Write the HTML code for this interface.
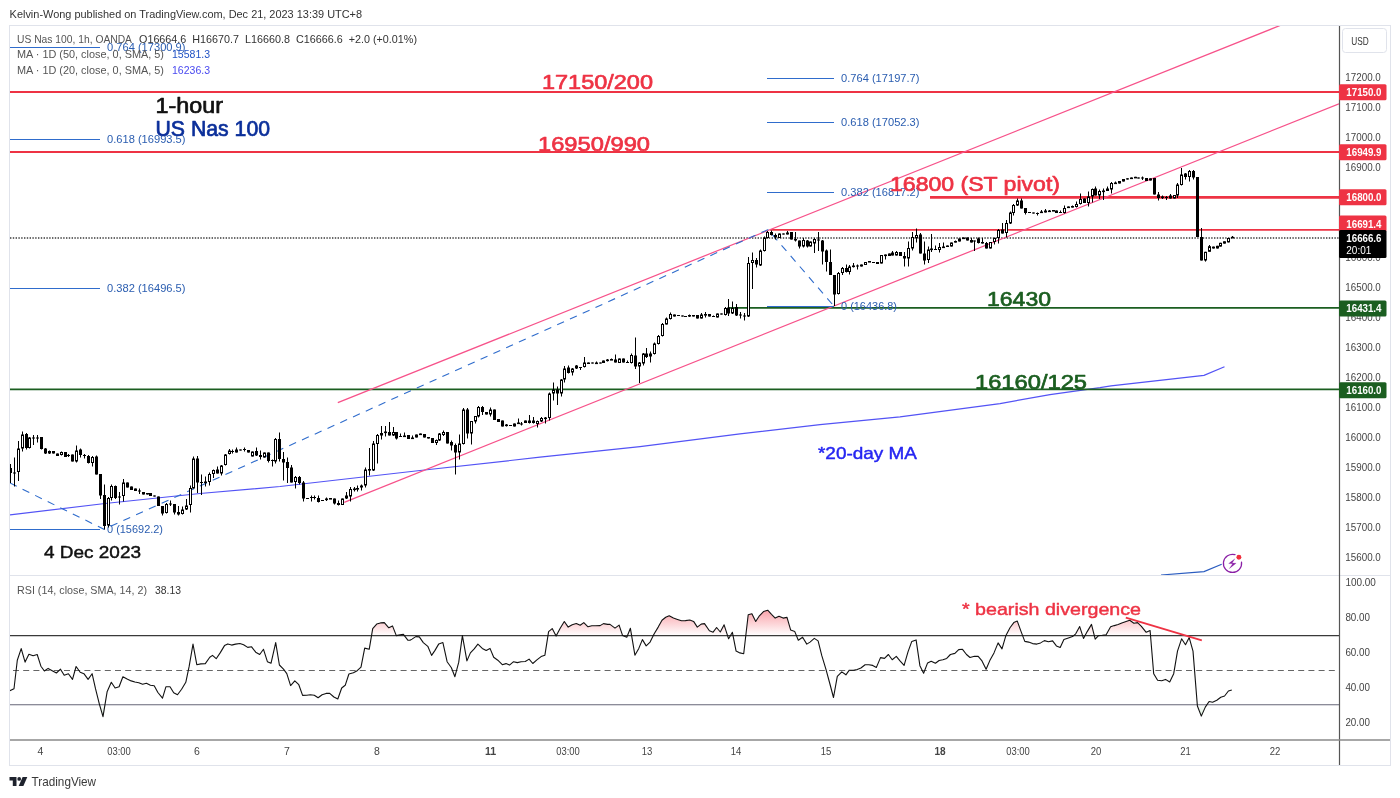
<!DOCTYPE html>
<html lang="en"><head><meta charset="utf-8"><title>US Nas 100 1-hour chart</title>
<style>
html,body{margin:0;padding:0;background:#fff;}
body{width:1400px;height:798px;overflow:hidden;position:relative;font-family:"Liberation Sans",sans-serif;}
svg{position:absolute;left:0;top:0;display:block;}
text{font-family:"Liberation Sans",sans-serif;}
.ax{font-size:10.5px;fill:#444;}
.lg{font-size:10.5px;fill:#555;}
.fib{font-size:11px;fill:#2a5db0;}
.ann{font-weight:normal;stroke-width:0.7px;stroke-linejoin:round;}
.s17{stroke-width:0.45px;}
</style></head><body>
<svg width="1400" height="798" viewBox="0 0 1400 798">

<text x="9.6" y="18" textLength="352.5" lengthAdjust="spacingAndGlyphs" font-size="11" style="fill:#333">Kelvin-Wong published on TradingView.com, Dec 21, 2023 13:39 UTC+8</text>
<rect x="9.5" y="25.5" width="1381" height="740" fill="#fff" stroke="#e0e3eb" stroke-width="1"/>
<line x1="10" y1="575.5" x2="1390" y2="575.5" stroke="#e0e3eb" stroke-width="1"/>
<defs><clipPath id="cm"><rect x="10" y="26" width="1329" height="549"/></clipPath><clipPath id="cr"><rect x="10" y="576" width="1329" height="164"/></clipPath></defs>
<g clip-path="url(#cm)">
<polyline fill="none" stroke="#5353f5" stroke-width="1.2" points="10,514.9 105,503.5 200,493.5 280,486.5 420,470.5 540,457.2 640,446.6 740,433.8 820,424.7 900,416.9 1000,403.6 1050,394.6 1100,387.6 1111,385.8 1204,375.3 1224.5,366.8"/>
<polyline fill="none" stroke="#2a5cc0" stroke-width="1.2" points="1161,575 1204,571.6 1221.7,564.2"/>
<line x1="10" y1="92.0" x2="1339" y2="92.0" stroke="#ee3344" stroke-width="2"/>
<line x1="10" y1="152.0" x2="1339" y2="152.0" stroke="#ee3344" stroke-width="2"/>
<line x1="930" y1="197.3" x2="1339" y2="197.3" stroke="#ee3344" stroke-width="2.8"/>
<line x1="770" y1="229.9" x2="1339" y2="229.9" stroke="#ee3344" stroke-width="1.9"/>
<line x1="728" y1="307.8" x2="1339" y2="307.8" stroke="#1b5e20" stroke-width="1.8"/>
<line x1="10" y1="389.4" x2="1339" y2="389.4" stroke="#1b5e20" stroke-width="1.8"/>
<line x1="10" y1="238" x2="1339" y2="238" stroke="#3a3a3a" stroke-width="1.3" stroke-dasharray="1.4 1.4"/>
<line x1="337.8" y1="402.7" x2="1281" y2="25.1" stroke="#f7528a" stroke-width="1.25"/>
<line x1="344.2" y1="502.3" x2="1339" y2="103.75" stroke="#f7528a" stroke-width="1.25"/>
<polyline fill="none" stroke="#2f6ccc" stroke-width="1.1" stroke-dasharray="7.5 6.5" points="10,483 104,529.3 768,229.6 834,306.2"/>
<line x1="10" y1="47.5" x2="100" y2="47.5" stroke="#2f6ccc" stroke-width="1.2"/>
<text x="107" y="50.5" class="fib" textLength="78.5" lengthAdjust="spacingAndGlyphs">0.764 (17300.9)</text>
<line x1="10" y1="139.5" x2="100" y2="139.5" stroke="#2f6ccc" stroke-width="1.2"/>
<text x="107" y="142.8" class="fib" textLength="78.5" lengthAdjust="spacingAndGlyphs">0.618 (16993.5)</text>
<line x1="10" y1="288.5" x2="100" y2="288.5" stroke="#2f6ccc" stroke-width="1.2"/>
<text x="107" y="291.8" class="fib" textLength="78.5" lengthAdjust="spacingAndGlyphs">0.382 (16496.5)</text>
<line x1="10" y1="529.5" x2="100" y2="529.5" stroke="#2f6ccc" stroke-width="1.2"/>
<text x="107" y="533.0999999999999" class="fib" textLength="56" lengthAdjust="spacingAndGlyphs">0 (15692.2)</text>
<line x1="767" y1="78.5" x2="834" y2="78.5" stroke="#2f6ccc" stroke-width="1.2"/>
<text x="841" y="82.0" class="fib" textLength="78.5" lengthAdjust="spacingAndGlyphs">0.764 (17197.7)</text>
<line x1="767" y1="122.5" x2="834" y2="122.5" stroke="#2f6ccc" stroke-width="1.2"/>
<text x="841" y="125.5" class="fib" textLength="78.5" lengthAdjust="spacingAndGlyphs">0.618 (17052.3)</text>
<line x1="767" y1="192.5" x2="834" y2="192.5" stroke="#2f6ccc" stroke-width="1.2"/>
<text x="841" y="195.9" class="fib" textLength="78.5" lengthAdjust="spacingAndGlyphs">0.382 (16817.2)</text>
<line x1="767" y1="306.5" x2="834" y2="306.5" stroke="#2f6ccc" stroke-width="1.2"/>
<text x="841" y="310.0" class="fib" textLength="56" lengthAdjust="spacingAndGlyphs">0 (16436.8)</text>
<line x1="10.5" y1="464.0" x2="10.5" y2="483.0" stroke="#000" stroke-width="1"/>
<rect x="9.0" y="468.0" width="3" height="5.0" fill="#000"/>
<line x1="14.5" y1="457.5" x2="14.5" y2="486.5" stroke="#000" stroke-width="1"/>
<rect x="13.0" y="472.5" width="3" height="1.0" fill="#000"/>
<line x1="18.5" y1="441.0" x2="18.5" y2="481.0" stroke="#000" stroke-width="1"/>
<rect x="17.5" y="449.0" width="2" height="22.5" fill="#fff" stroke="#000" stroke-width="1"/>
<line x1="22.5" y1="431.5" x2="22.5" y2="451.5" stroke="#000" stroke-width="1"/>
<rect x="21.5" y="435.0" width="2" height="13.0" fill="#fff" stroke="#000" stroke-width="1"/>
<line x1="26.5" y1="433.0" x2="26.5" y2="449.5" stroke="#000" stroke-width="1"/>
<rect x="25.0" y="434.0" width="3" height="14.0" fill="#000"/>
<line x1="29.5" y1="437.0" x2="29.5" y2="448.5" stroke="#000" stroke-width="1"/>
<rect x="28.5" y="438.0" width="2" height="9.5" fill="#fff" stroke="#000" stroke-width="1"/>
<line x1="33.5" y1="435.0" x2="33.5" y2="445.0" stroke="#000" stroke-width="1"/>
<rect x="32.0" y="437.5" width="3" height="1.0" fill="#000"/>
<line x1="37.5" y1="435.0" x2="37.5" y2="442.5" stroke="#000" stroke-width="1"/>
<rect x="36.0" y="437.5" width="3" height="1.0" fill="#000"/>
<line x1="41.5" y1="437.0" x2="41.5" y2="449.5" stroke="#000" stroke-width="1"/>
<rect x="40.0" y="437.0" width="3" height="12.0" fill="#000"/>
<line x1="45.5" y1="448.0" x2="45.5" y2="454.0" stroke="#000" stroke-width="1"/>
<rect x="44.0" y="448.5" width="3" height="5.0" fill="#000"/>
<line x1="49.5" y1="450.5" x2="49.5" y2="454.0" stroke="#000" stroke-width="1"/>
<rect x="48.5" y="451.5" width="2" height="1.5" fill="#fff" stroke="#000" stroke-width="1"/>
<line x1="53.5" y1="451.0" x2="53.5" y2="453.5" stroke="#000" stroke-width="1"/>
<rect x="52.0" y="451.0" width="3" height="2.5" fill="#000"/>
<line x1="57.5" y1="453.5" x2="57.5" y2="456.0" stroke="#000" stroke-width="1"/>
<rect x="56.0" y="453.5" width="3" height="2.5" fill="#000"/>
<line x1="61.5" y1="451.5" x2="61.5" y2="455.5" stroke="#000" stroke-width="1"/>
<rect x="60.5" y="452.5" width="2" height="2.0" fill="#fff" stroke="#000" stroke-width="1"/>
<line x1="65.5" y1="452.0" x2="65.5" y2="457.0" stroke="#000" stroke-width="1"/>
<rect x="64.0" y="452.0" width="3" height="5.0" fill="#000"/>
<line x1="68.5" y1="454.0" x2="68.5" y2="457.0" stroke="#000" stroke-width="1"/>
<rect x="67.0" y="455.0" width="3" height="1.0" fill="#000"/>
<line x1="72.5" y1="454.5" x2="72.5" y2="461.5" stroke="#000" stroke-width="1"/>
<rect x="71.0" y="454.5" width="3" height="7.0" fill="#000"/>
<line x1="76.5" y1="445.5" x2="76.5" y2="462.5" stroke="#000" stroke-width="1"/>
<rect x="75.5" y="451.0" width="2" height="10.0" fill="#fff" stroke="#000" stroke-width="1"/>
<line x1="80.5" y1="448.5" x2="80.5" y2="457.5" stroke="#000" stroke-width="1"/>
<rect x="79.0" y="449.5" width="3" height="5.5" fill="#000"/>
<line x1="84.5" y1="454.0" x2="84.5" y2="458.5" stroke="#000" stroke-width="1"/>
<rect x="83.0" y="455.0" width="3" height="1.0" fill="#000"/>
<line x1="88.5" y1="455.0" x2="88.5" y2="463.5" stroke="#000" stroke-width="1"/>
<rect x="87.0" y="456.0" width="3" height="7.0" fill="#000"/>
<line x1="92.5" y1="456.0" x2="92.5" y2="466.5" stroke="#000" stroke-width="1"/>
<rect x="91.5" y="457.5" width="2" height="5.0" fill="#fff" stroke="#000" stroke-width="1"/>
<line x1="96.5" y1="455.5" x2="96.5" y2="474.5" stroke="#000" stroke-width="1"/>
<rect x="95.0" y="456.5" width="3" height="18.0" fill="#000"/>
<line x1="100.5" y1="474.0" x2="100.5" y2="499.0" stroke="#000" stroke-width="1"/>
<rect x="99.0" y="474.0" width="3" height="21.5" fill="#000"/>
<line x1="104.5" y1="484.5" x2="104.5" y2="529.5" stroke="#000" stroke-width="1"/>
<rect x="103.0" y="495.0" width="3" height="31.0" fill="#000"/>
<line x1="108.5" y1="497.0" x2="108.5" y2="527.5" stroke="#000" stroke-width="1"/>
<rect x="107.5" y="498.5" width="2" height="26.5" fill="#fff" stroke="#000" stroke-width="1"/>
<line x1="111.5" y1="484.5" x2="111.5" y2="500.5" stroke="#000" stroke-width="1"/>
<rect x="110.5" y="486.5" width="2" height="11.0" fill="#fff" stroke="#000" stroke-width="1"/>
<line x1="115.5" y1="485.5" x2="115.5" y2="499.0" stroke="#000" stroke-width="1"/>
<rect x="114.0" y="486.0" width="3" height="12.0" fill="#000"/>
<line x1="119.5" y1="492.0" x2="119.5" y2="504.5" stroke="#000" stroke-width="1"/>
<rect x="118.0" y="496.5" width="3" height="1.0" fill="#000"/>
<line x1="123.5" y1="479.0" x2="123.5" y2="501.5" stroke="#000" stroke-width="1"/>
<rect x="122.5" y="483.0" width="2" height="12.5" fill="#fff" stroke="#000" stroke-width="1"/>
<line x1="127.5" y1="482.5" x2="127.5" y2="487.5" stroke="#000" stroke-width="1"/>
<rect x="126.0" y="482.5" width="3" height="5.0" fill="#000"/>
<line x1="131.5" y1="486.5" x2="131.5" y2="490.0" stroke="#000" stroke-width="1"/>
<rect x="130.0" y="486.5" width="3" height="3.5" fill="#000"/>
<line x1="135.5" y1="488.5" x2="135.5" y2="491.0" stroke="#000" stroke-width="1"/>
<rect x="134.0" y="488.5" width="3" height="2.5" fill="#000"/>
<line x1="139.5" y1="488.5" x2="139.5" y2="494.0" stroke="#000" stroke-width="1"/>
<rect x="138.0" y="490.5" width="3" height="1.0" fill="#000"/>
<line x1="143.5" y1="492.0" x2="143.5" y2="494.5" stroke="#000" stroke-width="1"/>
<rect x="142.0" y="492.0" width="3" height="2.5" fill="#000"/>
<line x1="147.5" y1="493.0" x2="147.5" y2="494.5" stroke="#000" stroke-width="1"/>
<rect x="146.0" y="493.0" width="3" height="1.5" fill="#000"/>
<line x1="150.5" y1="493.0" x2="150.5" y2="496.0" stroke="#000" stroke-width="1"/>
<rect x="149.0" y="493.0" width="3" height="3.0" fill="#000"/>
<line x1="154.5" y1="495.5" x2="154.5" y2="496.5" stroke="#000" stroke-width="1"/>
<rect x="153.0" y="495.5" width="3" height="1.0" fill="#000"/>
<line x1="158.5" y1="496.5" x2="158.5" y2="506.0" stroke="#000" stroke-width="1"/>
<rect x="157.0" y="496.5" width="3" height="9.5" fill="#000"/>
<line x1="162.5" y1="506.0" x2="162.5" y2="515.5" stroke="#000" stroke-width="1"/>
<rect x="161.0" y="506.0" width="3" height="7.5" fill="#000"/>
<line x1="166.5" y1="503.0" x2="166.5" y2="513.5" stroke="#000" stroke-width="1"/>
<rect x="165.5" y="504.5" width="2" height="8.0" fill="#fff" stroke="#000" stroke-width="1"/>
<line x1="170.5" y1="500.5" x2="170.5" y2="506.0" stroke="#000" stroke-width="1"/>
<rect x="169.0" y="503.5" width="3" height="1.0" fill="#000"/>
<line x1="174.5" y1="504.0" x2="174.5" y2="514.5" stroke="#000" stroke-width="1"/>
<rect x="173.0" y="504.0" width="3" height="8.5" fill="#000"/>
<line x1="178.5" y1="506.0" x2="178.5" y2="515.5" stroke="#000" stroke-width="1"/>
<rect x="177.0" y="512.0" width="3" height="2.5" fill="#000"/>
<line x1="182.5" y1="506.5" x2="182.5" y2="514.5" stroke="#000" stroke-width="1"/>
<rect x="181.5" y="510.0" width="2" height="3.5" fill="#fff" stroke="#000" stroke-width="1"/>
<line x1="186.5" y1="499.0" x2="186.5" y2="510.0" stroke="#000" stroke-width="1"/>
<rect x="185.5" y="506.0" width="2" height="3.0" fill="#fff" stroke="#000" stroke-width="1"/>
<line x1="190.5" y1="485.5" x2="190.5" y2="512.5" stroke="#000" stroke-width="1"/>
<rect x="189.5" y="488.5" width="2" height="16.0" fill="#fff" stroke="#000" stroke-width="1"/>
<line x1="193.5" y1="456.5" x2="193.5" y2="488.5" stroke="#000" stroke-width="1"/>
<rect x="192.5" y="459.0" width="2" height="29.0" fill="#fff" stroke="#000" stroke-width="1"/>
<line x1="197.5" y1="456.0" x2="197.5" y2="493.0" stroke="#000" stroke-width="1"/>
<rect x="196.0" y="458.5" width="3" height="24.0" fill="#000"/>
<line x1="201.5" y1="474.5" x2="201.5" y2="495.0" stroke="#000" stroke-width="1"/>
<rect x="200.0" y="482.0" width="3" height="1.0" fill="#000"/>
<line x1="205.5" y1="476.5" x2="205.5" y2="486.5" stroke="#000" stroke-width="1"/>
<rect x="204.5" y="482.0" width="2" height="0.6" fill="#fff" stroke="#000" stroke-width="1"/>
<line x1="209.5" y1="472.5" x2="209.5" y2="485.5" stroke="#000" stroke-width="1"/>
<rect x="208.5" y="474.5" width="2" height="7.0" fill="#fff" stroke="#000" stroke-width="1"/>
<line x1="213.5" y1="469.5" x2="213.5" y2="478.0" stroke="#000" stroke-width="1"/>
<rect x="212.5" y="470.5" width="2" height="3.0" fill="#fff" stroke="#000" stroke-width="1"/>
<line x1="217.5" y1="466.5" x2="217.5" y2="473.5" stroke="#000" stroke-width="1"/>
<rect x="216.0" y="469.5" width="3" height="4.0" fill="#000"/>
<line x1="221.5" y1="465.0" x2="221.5" y2="475.5" stroke="#000" stroke-width="1"/>
<rect x="220.5" y="466.0" width="2" height="7.0" fill="#fff" stroke="#000" stroke-width="1"/>
<line x1="225.5" y1="454.0" x2="225.5" y2="465.5" stroke="#000" stroke-width="1"/>
<rect x="224.5" y="455.0" width="2" height="9.5" fill="#fff" stroke="#000" stroke-width="1"/>
<line x1="229.5" y1="449.0" x2="229.5" y2="454.5" stroke="#000" stroke-width="1"/>
<rect x="228.5" y="451.0" width="2" height="2.5" fill="#fff" stroke="#000" stroke-width="1"/>
<line x1="232.5" y1="449.5" x2="232.5" y2="453.5" stroke="#000" stroke-width="1"/>
<rect x="231.0" y="451.0" width="3" height="1.0" fill="#000"/>
<line x1="236.5" y1="447.5" x2="236.5" y2="452.5" stroke="#000" stroke-width="1"/>
<rect x="235.5" y="450.0" width="2" height="2.0" fill="#fff" stroke="#000" stroke-width="1"/>
<line x1="240.5" y1="449.5" x2="240.5" y2="450.5" stroke="#000" stroke-width="1"/>
<rect x="239.0" y="449.5" width="3" height="1.0" fill="#000"/>
<line x1="244.5" y1="447.5" x2="244.5" y2="451.5" stroke="#000" stroke-width="1"/>
<rect x="243.0" y="449.0" width="3" height="1.0" fill="#000"/>
<line x1="248.5" y1="450.0" x2="248.5" y2="452.5" stroke="#000" stroke-width="1"/>
<rect x="247.0" y="450.0" width="3" height="2.5" fill="#000"/>
<line x1="252.5" y1="451.5" x2="252.5" y2="456.5" stroke="#000" stroke-width="1"/>
<rect x="251.5" y="452.0" width="2" height="4.0" fill="#fff" stroke="#000" stroke-width="1"/>
<line x1="256.5" y1="447.5" x2="256.5" y2="456.0" stroke="#000" stroke-width="1"/>
<rect x="255.0" y="451.0" width="3" height="4.5" fill="#000"/>
<line x1="260.5" y1="450.5" x2="260.5" y2="459.5" stroke="#000" stroke-width="1"/>
<rect x="259.0" y="455.0" width="3" height="2.0" fill="#000"/>
<line x1="264.5" y1="452.5" x2="264.5" y2="457.5" stroke="#000" stroke-width="1"/>
<rect x="263.5" y="453.0" width="2" height="4.0" fill="#fff" stroke="#000" stroke-width="1"/>
<line x1="268.5" y1="452.5" x2="268.5" y2="462.5" stroke="#000" stroke-width="1"/>
<rect x="267.0" y="452.5" width="3" height="8.5" fill="#000"/>
<line x1="272.5" y1="459.5" x2="272.5" y2="466.5" stroke="#000" stroke-width="1"/>
<rect x="271.0" y="460.0" width="3" height="1.0" fill="#000"/>
<line x1="275.5" y1="438.0" x2="275.5" y2="463.5" stroke="#000" stroke-width="1"/>
<rect x="274.5" y="439.5" width="2" height="21.5" fill="#fff" stroke="#000" stroke-width="1"/>
<line x1="279.5" y1="432.5" x2="279.5" y2="461.5" stroke="#000" stroke-width="1"/>
<rect x="278.0" y="439.0" width="3" height="20.0" fill="#000"/>
<line x1="283.5" y1="452.0" x2="283.5" y2="480.5" stroke="#000" stroke-width="1"/>
<rect x="282.0" y="459.0" width="3" height="3.5" fill="#000"/>
<line x1="287.5" y1="457.5" x2="287.5" y2="483.0" stroke="#000" stroke-width="1"/>
<rect x="286.0" y="462.0" width="3" height="6.0" fill="#000"/>
<line x1="291.5" y1="465.0" x2="291.5" y2="482.5" stroke="#000" stroke-width="1"/>
<rect x="290.0" y="467.5" width="3" height="15.0" fill="#000"/>
<line x1="295.5" y1="476.0" x2="295.5" y2="488.5" stroke="#000" stroke-width="1"/>
<rect x="294.5" y="477.5" width="2" height="4.0" fill="#fff" stroke="#000" stroke-width="1"/>
<line x1="299.5" y1="476.0" x2="299.5" y2="484.5" stroke="#000" stroke-width="1"/>
<rect x="298.0" y="477.0" width="3" height="6.0" fill="#000"/>
<line x1="303.5" y1="481.0" x2="303.5" y2="501.5" stroke="#000" stroke-width="1"/>
<rect x="302.0" y="482.5" width="3" height="16.0" fill="#000"/>
<line x1="307.5" y1="498.0" x2="307.5" y2="499.0" stroke="#000" stroke-width="1"/>
<rect x="306.0" y="498.0" width="3" height="1.0" fill="#000"/>
<line x1="311.5" y1="495.5" x2="311.5" y2="501.5" stroke="#000" stroke-width="1"/>
<rect x="310.0" y="497.0" width="3" height="1.0" fill="#000"/>
<line x1="314.5" y1="495.5" x2="314.5" y2="499.5" stroke="#000" stroke-width="1"/>
<rect x="313.0" y="497.0" width="3" height="1.0" fill="#000"/>
<line x1="318.5" y1="495.5" x2="318.5" y2="502.5" stroke="#000" stroke-width="1"/>
<rect x="317.0" y="498.0" width="3" height="4.0" fill="#000"/>
<line x1="322.5" y1="500.0" x2="322.5" y2="501.0" stroke="#000" stroke-width="1"/>
<rect x="321.0" y="500.0" width="3" height="1.0" fill="#000"/>
<line x1="326.5" y1="497.5" x2="326.5" y2="501.0" stroke="#000" stroke-width="1"/>
<rect x="325.5" y="499.0" width="2" height="0.6" fill="#fff" stroke="#000" stroke-width="1"/>
<line x1="330.5" y1="498.0" x2="330.5" y2="499.0" stroke="#000" stroke-width="1"/>
<rect x="329.5" y="498.5" width="2" height="0.6" fill="#fff" stroke="#000" stroke-width="1"/>
<line x1="334.5" y1="498.5" x2="334.5" y2="504.5" stroke="#000" stroke-width="1"/>
<rect x="333.0" y="498.5" width="3" height="5.0" fill="#000"/>
<line x1="338.5" y1="500.5" x2="338.5" y2="505.5" stroke="#000" stroke-width="1"/>
<rect x="337.0" y="503.0" width="3" height="2.0" fill="#000"/>
<line x1="342.5" y1="498.5" x2="342.5" y2="505.0" stroke="#000" stroke-width="1"/>
<rect x="341.5" y="499.0" width="2" height="5.5" fill="#fff" stroke="#000" stroke-width="1"/>
<line x1="346.5" y1="492.0" x2="346.5" y2="499.0" stroke="#000" stroke-width="1"/>
<rect x="345.5" y="496.0" width="2" height="2.0" fill="#fff" stroke="#000" stroke-width="1"/>
<line x1="350.5" y1="487.0" x2="350.5" y2="501.5" stroke="#000" stroke-width="1"/>
<rect x="349.5" y="489.5" width="2" height="6.5" fill="#fff" stroke="#000" stroke-width="1"/>
<line x1="354.5" y1="487.0" x2="354.5" y2="491.5" stroke="#000" stroke-width="1"/>
<rect x="353.5" y="489.0" width="2" height="0.6" fill="#fff" stroke="#000" stroke-width="1"/>
<line x1="357.5" y1="485.5" x2="357.5" y2="491.5" stroke="#000" stroke-width="1"/>
<rect x="356.5" y="488.5" width="2" height="0.6" fill="#fff" stroke="#000" stroke-width="1"/>
<line x1="361.5" y1="484.5" x2="361.5" y2="490.5" stroke="#000" stroke-width="1"/>
<rect x="360.5" y="486.0" width="2" height="1.0" fill="#fff" stroke="#000" stroke-width="1"/>
<line x1="365.5" y1="467.5" x2="365.5" y2="487.5" stroke="#000" stroke-width="1"/>
<rect x="364.5" y="470.0" width="2" height="15.0" fill="#fff" stroke="#000" stroke-width="1"/>
<line x1="369.5" y1="448.0" x2="369.5" y2="475.5" stroke="#000" stroke-width="1"/>
<rect x="368.5" y="469.5" width="2" height="0.6" fill="#fff" stroke="#000" stroke-width="1"/>
<line x1="373.5" y1="441.0" x2="373.5" y2="471.0" stroke="#000" stroke-width="1"/>
<rect x="372.5" y="444.0" width="2" height="26.0" fill="#fff" stroke="#000" stroke-width="1"/>
<line x1="377.5" y1="434.0" x2="377.5" y2="463.5" stroke="#000" stroke-width="1"/>
<rect x="376.5" y="435.5" width="2" height="8.0" fill="#fff" stroke="#000" stroke-width="1"/>
<line x1="381.5" y1="426.0" x2="381.5" y2="439.5" stroke="#000" stroke-width="1"/>
<rect x="380.5" y="433.5" width="2" height="1.5" fill="#fff" stroke="#000" stroke-width="1"/>
<line x1="385.5" y1="426.0" x2="385.5" y2="436.5" stroke="#000" stroke-width="1"/>
<rect x="384.5" y="432.0" width="2" height="0.6" fill="#fff" stroke="#000" stroke-width="1"/>
<line x1="389.5" y1="422.0" x2="389.5" y2="435.5" stroke="#000" stroke-width="1"/>
<rect x="388.0" y="432.0" width="3" height="3.5" fill="#000"/>
<line x1="393.5" y1="427.0" x2="393.5" y2="436.0" stroke="#000" stroke-width="1"/>
<rect x="392.5" y="432.5" width="2" height="2.5" fill="#fff" stroke="#000" stroke-width="1"/>
<line x1="396.5" y1="432.0" x2="396.5" y2="439.5" stroke="#000" stroke-width="1"/>
<rect x="395.0" y="432.0" width="3" height="6.5" fill="#000"/>
<line x1="400.5" y1="433.5" x2="400.5" y2="437.0" stroke="#000" stroke-width="1"/>
<rect x="399.0" y="436.0" width="3" height="1.0" fill="#000"/>
<line x1="404.5" y1="432.5" x2="404.5" y2="436.5" stroke="#000" stroke-width="1"/>
<rect x="403.5" y="436.0" width="2" height="0.6" fill="#fff" stroke="#000" stroke-width="1"/>
<line x1="408.5" y1="435.0" x2="408.5" y2="439.0" stroke="#000" stroke-width="1"/>
<rect x="407.0" y="435.0" width="3" height="4.0" fill="#000"/>
<line x1="412.5" y1="435.5" x2="412.5" y2="438.5" stroke="#000" stroke-width="1"/>
<rect x="411.5" y="438.0" width="2" height="0.6" fill="#fff" stroke="#000" stroke-width="1"/>
<line x1="416.5" y1="434.5" x2="416.5" y2="437.5" stroke="#000" stroke-width="1"/>
<rect x="415.5" y="435.0" width="2" height="2.0" fill="#fff" stroke="#000" stroke-width="1"/>
<line x1="420.5" y1="433.5" x2="420.5" y2="434.5" stroke="#000" stroke-width="1"/>
<rect x="419.5" y="434.0" width="2" height="0.6" fill="#fff" stroke="#000" stroke-width="1"/>
<line x1="424.5" y1="434.0" x2="424.5" y2="437.5" stroke="#000" stroke-width="1"/>
<rect x="423.0" y="434.0" width="3" height="3.5" fill="#000"/>
<line x1="428.5" y1="437.0" x2="428.5" y2="438.5" stroke="#000" stroke-width="1"/>
<rect x="427.0" y="437.0" width="3" height="1.5" fill="#000"/>
<line x1="432.5" y1="438.0" x2="432.5" y2="443.0" stroke="#000" stroke-width="1"/>
<rect x="431.0" y="438.0" width="3" height="5.0" fill="#000"/>
<line x1="436.5" y1="439.5" x2="436.5" y2="445.0" stroke="#000" stroke-width="1"/>
<rect x="435.5" y="440.5" width="2" height="2.0" fill="#fff" stroke="#000" stroke-width="1"/>
<line x1="439.5" y1="433.0" x2="439.5" y2="441.0" stroke="#000" stroke-width="1"/>
<rect x="438.5" y="434.0" width="2" height="6.0" fill="#fff" stroke="#000" stroke-width="1"/>
<line x1="443.5" y1="430.5" x2="443.5" y2="436.0" stroke="#000" stroke-width="1"/>
<rect x="442.5" y="432.5" width="2" height="2.0" fill="#fff" stroke="#000" stroke-width="1"/>
<line x1="447.5" y1="432.0" x2="447.5" y2="443.5" stroke="#000" stroke-width="1"/>
<rect x="446.0" y="432.0" width="3" height="11.5" fill="#000"/>
<line x1="451.5" y1="440.5" x2="451.5" y2="450.5" stroke="#000" stroke-width="1"/>
<rect x="450.0" y="442.0" width="3" height="3.5" fill="#000"/>
<line x1="455.5" y1="443.5" x2="455.5" y2="474.5" stroke="#000" stroke-width="1"/>
<rect x="454.0" y="445.0" width="3" height="7.5" fill="#000"/>
<line x1="459.5" y1="434.5" x2="459.5" y2="459.5" stroke="#000" stroke-width="1"/>
<rect x="458.5" y="444.0" width="2" height="8.0" fill="#fff" stroke="#000" stroke-width="1"/>
<line x1="463.5" y1="408.0" x2="463.5" y2="444.5" stroke="#000" stroke-width="1"/>
<rect x="462.5" y="410.0" width="2" height="33.5" fill="#fff" stroke="#000" stroke-width="1"/>
<line x1="467.5" y1="408.0" x2="467.5" y2="438.5" stroke="#000" stroke-width="1"/>
<rect x="466.0" y="409.5" width="3" height="24.0" fill="#000"/>
<line x1="471.5" y1="421.0" x2="471.5" y2="444.5" stroke="#000" stroke-width="1"/>
<rect x="470.5" y="421.5" width="2" height="11.5" fill="#fff" stroke="#000" stroke-width="1"/>
<line x1="475.5" y1="416.0" x2="475.5" y2="423.5" stroke="#000" stroke-width="1"/>
<rect x="474.5" y="416.5" width="2" height="4.5" fill="#fff" stroke="#000" stroke-width="1"/>
<line x1="478.5" y1="406.0" x2="478.5" y2="417.5" stroke="#000" stroke-width="1"/>
<rect x="477.5" y="407.5" width="2" height="8.5" fill="#fff" stroke="#000" stroke-width="1"/>
<line x1="482.5" y1="406.0" x2="482.5" y2="415.0" stroke="#000" stroke-width="1"/>
<rect x="481.0" y="407.0" width="3" height="5.0" fill="#000"/>
<line x1="486.5" y1="412.0" x2="486.5" y2="414.5" stroke="#000" stroke-width="1"/>
<rect x="485.0" y="412.0" width="3" height="2.5" fill="#000"/>
<line x1="490.5" y1="407.5" x2="490.5" y2="416.5" stroke="#000" stroke-width="1"/>
<rect x="489.5" y="410.0" width="2" height="4.0" fill="#fff" stroke="#000" stroke-width="1"/>
<line x1="494.5" y1="409.5" x2="494.5" y2="420.0" stroke="#000" stroke-width="1"/>
<rect x="493.0" y="409.5" width="3" height="10.5" fill="#000"/>
<line x1="498.5" y1="419.0" x2="498.5" y2="422.0" stroke="#000" stroke-width="1"/>
<rect x="497.0" y="419.0" width="3" height="3.0" fill="#000"/>
<line x1="502.5" y1="420.5" x2="502.5" y2="426.5" stroke="#000" stroke-width="1"/>
<rect x="501.0" y="420.5" width="3" height="6.0" fill="#000"/>
<line x1="506.5" y1="424.0" x2="506.5" y2="426.5" stroke="#000" stroke-width="1"/>
<rect x="505.5" y="425.0" width="2" height="0.6" fill="#fff" stroke="#000" stroke-width="1"/>
<line x1="510.5" y1="425.0" x2="510.5" y2="426.0" stroke="#000" stroke-width="1"/>
<rect x="509.0" y="425.0" width="3" height="1.0" fill="#000"/>
<line x1="514.5" y1="423.5" x2="514.5" y2="426.5" stroke="#000" stroke-width="1"/>
<rect x="513.5" y="424.0" width="2" height="2.0" fill="#fff" stroke="#000" stroke-width="1"/>
<line x1="518.5" y1="418.5" x2="518.5" y2="423.5" stroke="#000" stroke-width="1"/>
<rect x="517.5" y="423.0" width="2" height="0.6" fill="#fff" stroke="#000" stroke-width="1"/>
<line x1="521.5" y1="422.0" x2="521.5" y2="425.5" stroke="#000" stroke-width="1"/>
<rect x="520.0" y="423.5" width="3" height="1.0" fill="#000"/>
<line x1="525.5" y1="420.5" x2="525.5" y2="423.0" stroke="#000" stroke-width="1"/>
<rect x="524.5" y="421.0" width="2" height="1.5" fill="#fff" stroke="#000" stroke-width="1"/>
<line x1="529.5" y1="415.0" x2="529.5" y2="423.5" stroke="#000" stroke-width="1"/>
<rect x="528.5" y="421.0" width="2" height="1.5" fill="#fff" stroke="#000" stroke-width="1"/>
<line x1="533.5" y1="417.0" x2="533.5" y2="423.5" stroke="#000" stroke-width="1"/>
<rect x="532.0" y="420.5" width="3" height="2.5" fill="#000"/>
<line x1="537.5" y1="420.5" x2="537.5" y2="427.5" stroke="#000" stroke-width="1"/>
<rect x="536.5" y="421.5" width="2" height="2.0" fill="#fff" stroke="#000" stroke-width="1"/>
<line x1="541.5" y1="417.0" x2="541.5" y2="422.0" stroke="#000" stroke-width="1"/>
<rect x="540.5" y="418.5" width="2" height="2.5" fill="#fff" stroke="#000" stroke-width="1"/>
<line x1="545.5" y1="417.0" x2="545.5" y2="423.5" stroke="#000" stroke-width="1"/>
<rect x="544.5" y="418.0" width="2" height="0.6" fill="#fff" stroke="#000" stroke-width="1"/>
<line x1="549.5" y1="392.5" x2="549.5" y2="420.5" stroke="#000" stroke-width="1"/>
<rect x="548.5" y="394.0" width="2" height="23.5" fill="#fff" stroke="#000" stroke-width="1"/>
<line x1="553.5" y1="382.5" x2="553.5" y2="400.5" stroke="#000" stroke-width="1"/>
<rect x="552.5" y="390.0" width="2" height="3.0" fill="#fff" stroke="#000" stroke-width="1"/>
<line x1="557.5" y1="386.5" x2="557.5" y2="405.0" stroke="#000" stroke-width="1"/>
<rect x="556.0" y="389.5" width="3" height="4.0" fill="#000"/>
<line x1="561.5" y1="379.0" x2="561.5" y2="396.5" stroke="#000" stroke-width="1"/>
<rect x="560.5" y="380.0" width="2" height="13.0" fill="#fff" stroke="#000" stroke-width="1"/>
<line x1="564.5" y1="366.0" x2="564.5" y2="382.5" stroke="#000" stroke-width="1"/>
<rect x="563.5" y="369.0" width="2" height="10.0" fill="#fff" stroke="#000" stroke-width="1"/>
<line x1="568.5" y1="365.5" x2="568.5" y2="373.5" stroke="#000" stroke-width="1"/>
<rect x="567.0" y="367.5" width="3" height="5.5" fill="#000"/>
<line x1="572.5" y1="368.0" x2="572.5" y2="375.5" stroke="#000" stroke-width="1"/>
<rect x="571.5" y="369.0" width="2" height="3.0" fill="#fff" stroke="#000" stroke-width="1"/>
<line x1="576.5" y1="365.0" x2="576.5" y2="369.0" stroke="#000" stroke-width="1"/>
<rect x="575.5" y="366.0" width="2" height="2.0" fill="#fff" stroke="#000" stroke-width="1"/>
<line x1="580.5" y1="367.0" x2="580.5" y2="370.0" stroke="#000" stroke-width="1"/>
<rect x="579.0" y="367.0" width="3" height="1.0" fill="#000"/>
<line x1="584.5" y1="357.0" x2="584.5" y2="367.5" stroke="#000" stroke-width="1"/>
<rect x="583.5" y="363.0" width="2" height="3.5" fill="#fff" stroke="#000" stroke-width="1"/>
<line x1="588.5" y1="362.5" x2="588.5" y2="364.0" stroke="#000" stroke-width="1"/>
<rect x="587.0" y="362.5" width="3" height="1.5" fill="#000"/>
<line x1="592.5" y1="362.5" x2="592.5" y2="363.5" stroke="#000" stroke-width="1"/>
<rect x="591.0" y="362.5" width="3" height="1.0" fill="#000"/>
<line x1="596.5" y1="361.5" x2="596.5" y2="363.5" stroke="#000" stroke-width="1"/>
<rect x="595.5" y="363.0" width="2" height="0.6" fill="#fff" stroke="#000" stroke-width="1"/>
<line x1="600.5" y1="362.5" x2="600.5" y2="363.5" stroke="#000" stroke-width="1"/>
<rect x="599.0" y="362.5" width="3" height="1.0" fill="#000"/>
<line x1="603.5" y1="360.5" x2="603.5" y2="363.0" stroke="#000" stroke-width="1"/>
<rect x="602.5" y="361.0" width="2" height="1.5" fill="#fff" stroke="#000" stroke-width="1"/>
<line x1="607.5" y1="359.0" x2="607.5" y2="361.5" stroke="#000" stroke-width="1"/>
<rect x="606.5" y="360.0" width="2" height="0.6" fill="#fff" stroke="#000" stroke-width="1"/>
<line x1="611.5" y1="358.5" x2="611.5" y2="360.0" stroke="#000" stroke-width="1"/>
<rect x="610.5" y="359.5" width="2" height="0.6" fill="#fff" stroke="#000" stroke-width="1"/>
<line x1="615.5" y1="354.5" x2="615.5" y2="362.5" stroke="#000" stroke-width="1"/>
<rect x="614.0" y="359.5" width="3" height="3.0" fill="#000"/>
<line x1="619.5" y1="358.5" x2="619.5" y2="363.0" stroke="#000" stroke-width="1"/>
<rect x="618.5" y="359.0" width="2" height="3.5" fill="#fff" stroke="#000" stroke-width="1"/>
<line x1="623.5" y1="358.5" x2="623.5" y2="362.5" stroke="#000" stroke-width="1"/>
<rect x="622.0" y="358.5" width="3" height="4.0" fill="#000"/>
<line x1="627.5" y1="360.5" x2="627.5" y2="363.0" stroke="#000" stroke-width="1"/>
<rect x="626.0" y="362.0" width="3" height="1.0" fill="#000"/>
<line x1="631.5" y1="353.5" x2="631.5" y2="363.5" stroke="#000" stroke-width="1"/>
<rect x="630.5" y="355.5" width="2" height="7.0" fill="#fff" stroke="#000" stroke-width="1"/>
<line x1="635.5" y1="337.5" x2="635.5" y2="369.0" stroke="#000" stroke-width="1"/>
<rect x="634.0" y="355.5" width="3" height="11.0" fill="#000"/>
<line x1="639.5" y1="362.0" x2="639.5" y2="383.0" stroke="#000" stroke-width="1"/>
<rect x="638.5" y="363.0" width="2" height="3.0" fill="#fff" stroke="#000" stroke-width="1"/>
<line x1="643.5" y1="353.0" x2="643.5" y2="365.5" stroke="#000" stroke-width="1"/>
<rect x="642.5" y="354.0" width="2" height="9.0" fill="#fff" stroke="#000" stroke-width="1"/>
<line x1="646.5" y1="348.0" x2="646.5" y2="358.0" stroke="#000" stroke-width="1"/>
<rect x="645.0" y="353.5" width="3" height="3.5" fill="#000"/>
<line x1="650.5" y1="351.5" x2="650.5" y2="362.5" stroke="#000" stroke-width="1"/>
<rect x="649.5" y="354.0" width="2" height="2.0" fill="#fff" stroke="#000" stroke-width="1"/>
<line x1="654.5" y1="342.5" x2="654.5" y2="354.5" stroke="#000" stroke-width="1"/>
<rect x="653.5" y="344.0" width="2" height="9.5" fill="#fff" stroke="#000" stroke-width="1"/>
<line x1="658.5" y1="335.0" x2="658.5" y2="344.5" stroke="#000" stroke-width="1"/>
<rect x="657.5" y="336.5" width="2" height="7.0" fill="#fff" stroke="#000" stroke-width="1"/>
<line x1="662.5" y1="323.0" x2="662.5" y2="336.5" stroke="#000" stroke-width="1"/>
<rect x="661.5" y="324.5" width="2" height="11.0" fill="#fff" stroke="#000" stroke-width="1"/>
<line x1="666.5" y1="317.5" x2="666.5" y2="324.5" stroke="#000" stroke-width="1"/>
<rect x="665.5" y="319.0" width="2" height="5.0" fill="#fff" stroke="#000" stroke-width="1"/>
<line x1="670.5" y1="312.5" x2="670.5" y2="319.5" stroke="#000" stroke-width="1"/>
<rect x="669.5" y="314.5" width="2" height="4.0" fill="#fff" stroke="#000" stroke-width="1"/>
<line x1="674.5" y1="314.5" x2="674.5" y2="316.5" stroke="#000" stroke-width="1"/>
<rect x="673.0" y="314.5" width="3" height="2.0" fill="#000"/>
<line x1="678.5" y1="315.0" x2="678.5" y2="316.0" stroke="#000" stroke-width="1"/>
<rect x="677.0" y="315.0" width="3" height="1.0" fill="#000"/>
<line x1="682.5" y1="315.5" x2="682.5" y2="316.5" stroke="#000" stroke-width="1"/>
<rect x="681.0" y="315.5" width="3" height="1.0" fill="#000"/>
<line x1="685.5" y1="316.0" x2="685.5" y2="317.0" stroke="#000" stroke-width="1"/>
<rect x="684.0" y="316.0" width="3" height="1.0" fill="#000"/>
<line x1="689.5" y1="314.5" x2="689.5" y2="317.0" stroke="#000" stroke-width="1"/>
<rect x="688.5" y="315.5" width="2" height="0.6" fill="#fff" stroke="#000" stroke-width="1"/>
<line x1="693.5" y1="315.0" x2="693.5" y2="316.5" stroke="#000" stroke-width="1"/>
<rect x="692.0" y="315.0" width="3" height="1.5" fill="#000"/>
<line x1="697.5" y1="315.0" x2="697.5" y2="318.5" stroke="#000" stroke-width="1"/>
<rect x="696.0" y="315.0" width="3" height="3.5" fill="#000"/>
<line x1="701.5" y1="313.0" x2="701.5" y2="318.5" stroke="#000" stroke-width="1"/>
<rect x="700.5" y="315.0" width="2" height="3.0" fill="#fff" stroke="#000" stroke-width="1"/>
<line x1="705.5" y1="312.0" x2="705.5" y2="317.5" stroke="#000" stroke-width="1"/>
<rect x="704.5" y="314.5" width="2" height="0.6" fill="#fff" stroke="#000" stroke-width="1"/>
<line x1="709.5" y1="314.0" x2="709.5" y2="316.5" stroke="#000" stroke-width="1"/>
<rect x="708.0" y="314.0" width="3" height="2.5" fill="#000"/>
<line x1="713.5" y1="315.5" x2="713.5" y2="317.0" stroke="#000" stroke-width="1"/>
<rect x="712.0" y="316.0" width="3" height="1.0" fill="#000"/>
<line x1="717.5" y1="313.5" x2="717.5" y2="317.5" stroke="#000" stroke-width="1"/>
<rect x="716.5" y="314.0" width="2" height="3.0" fill="#fff" stroke="#000" stroke-width="1"/>
<line x1="721.5" y1="313.5" x2="721.5" y2="314.5" stroke="#000" stroke-width="1"/>
<rect x="720.0" y="313.5" width="3" height="1.0" fill="#000"/>
<line x1="725.5" y1="307.0" x2="725.5" y2="315.5" stroke="#000" stroke-width="1"/>
<rect x="724.5" y="308.5" width="2" height="6.0" fill="#fff" stroke="#000" stroke-width="1"/>
<line x1="728.5" y1="299.0" x2="728.5" y2="316.0" stroke="#000" stroke-width="1"/>
<rect x="727.0" y="307.5" width="3" height="6.0" fill="#000"/>
<line x1="732.5" y1="301.5" x2="732.5" y2="314.0" stroke="#000" stroke-width="1"/>
<rect x="731.5" y="308.5" width="2" height="4.5" fill="#fff" stroke="#000" stroke-width="1"/>
<line x1="736.5" y1="304.0" x2="736.5" y2="316.0" stroke="#000" stroke-width="1"/>
<rect x="735.0" y="307.0" width="3" height="8.5" fill="#000"/>
<line x1="740.5" y1="312.0" x2="740.5" y2="318.5" stroke="#000" stroke-width="1"/>
<rect x="739.0" y="314.5" width="3" height="1.0" fill="#000"/>
<line x1="744.5" y1="313.0" x2="744.5" y2="320.5" stroke="#000" stroke-width="1"/>
<rect x="743.0" y="315.5" width="3" height="1.0" fill="#000"/>
<line x1="748.5" y1="257.0" x2="748.5" y2="317.0" stroke="#000" stroke-width="1"/>
<rect x="747.5" y="263.5" width="2" height="52.5" fill="#fff" stroke="#000" stroke-width="1"/>
<line x1="752.5" y1="252.5" x2="752.5" y2="289.0" stroke="#000" stroke-width="1"/>
<rect x="751.5" y="260.5" width="2" height="2.0" fill="#fff" stroke="#000" stroke-width="1"/>
<line x1="756.5" y1="258.0" x2="756.5" y2="267.5" stroke="#000" stroke-width="1"/>
<rect x="755.0" y="260.0" width="3" height="4.5" fill="#000"/>
<line x1="760.5" y1="249.5" x2="760.5" y2="266.0" stroke="#000" stroke-width="1"/>
<rect x="759.5" y="251.0" width="2" height="14.0" fill="#fff" stroke="#000" stroke-width="1"/>
<line x1="764.5" y1="236.5" x2="764.5" y2="251.5" stroke="#000" stroke-width="1"/>
<rect x="763.5" y="238.0" width="2" height="12.5" fill="#fff" stroke="#000" stroke-width="1"/>
<line x1="767.5" y1="231.0" x2="767.5" y2="238.5" stroke="#000" stroke-width="1"/>
<rect x="766.5" y="232.5" width="2" height="5.0" fill="#fff" stroke="#000" stroke-width="1"/>
<line x1="771.5" y1="230.5" x2="771.5" y2="235.5" stroke="#000" stroke-width="1"/>
<rect x="770.0" y="232.0" width="3" height="3.0" fill="#000"/>
<line x1="775.5" y1="233.5" x2="775.5" y2="239.5" stroke="#000" stroke-width="1"/>
<rect x="774.0" y="235.0" width="3" height="2.5" fill="#000"/>
<line x1="779.5" y1="233.5" x2="779.5" y2="238.0" stroke="#000" stroke-width="1"/>
<rect x="778.5" y="234.0" width="2" height="3.5" fill="#fff" stroke="#000" stroke-width="1"/>
<line x1="783.5" y1="233.5" x2="783.5" y2="234.5" stroke="#000" stroke-width="1"/>
<rect x="782.0" y="233.5" width="3" height="1.0" fill="#000"/>
<line x1="787.5" y1="231.0" x2="787.5" y2="234.5" stroke="#000" stroke-width="1"/>
<rect x="786.5" y="233.0" width="2" height="1.0" fill="#fff" stroke="#000" stroke-width="1"/>
<line x1="791.5" y1="232.0" x2="791.5" y2="239.5" stroke="#000" stroke-width="1"/>
<rect x="790.0" y="232.0" width="3" height="7.5" fill="#000"/>
<line x1="795.5" y1="232.0" x2="795.5" y2="241.5" stroke="#000" stroke-width="1"/>
<rect x="794.0" y="239.0" width="3" height="1.5" fill="#000"/>
<line x1="799.5" y1="240.5" x2="799.5" y2="248.5" stroke="#000" stroke-width="1"/>
<rect x="798.0" y="240.5" width="3" height="6.0" fill="#000"/>
<line x1="803.5" y1="238.0" x2="803.5" y2="247.5" stroke="#000" stroke-width="1"/>
<rect x="802.5" y="240.5" width="2" height="5.5" fill="#fff" stroke="#000" stroke-width="1"/>
<line x1="807.5" y1="240.0" x2="807.5" y2="247.5" stroke="#000" stroke-width="1"/>
<rect x="806.0" y="240.5" width="3" height="6.0" fill="#000"/>
<line x1="810.5" y1="241.5" x2="810.5" y2="246.5" stroke="#000" stroke-width="1"/>
<rect x="809.5" y="242.0" width="2" height="4.0" fill="#fff" stroke="#000" stroke-width="1"/>
<line x1="814.5" y1="238.0" x2="814.5" y2="253.0" stroke="#000" stroke-width="1"/>
<rect x="813.5" y="239.5" width="2" height="3.5" fill="#fff" stroke="#000" stroke-width="1"/>
<line x1="818.5" y1="232.0" x2="818.5" y2="251.0" stroke="#000" stroke-width="1"/>
<rect x="817.0" y="239.5" width="3" height="1.0" fill="#000"/>
<line x1="822.5" y1="240.0" x2="822.5" y2="264.5" stroke="#000" stroke-width="1"/>
<rect x="821.0" y="240.5" width="3" height="11.0" fill="#000"/>
<line x1="826.5" y1="249.5" x2="826.5" y2="271.5" stroke="#000" stroke-width="1"/>
<rect x="825.0" y="250.5" width="3" height="11.5" fill="#000"/>
<line x1="830.5" y1="249.5" x2="830.5" y2="275.0" stroke="#000" stroke-width="1"/>
<rect x="829.0" y="262.0" width="3" height="13.0" fill="#000"/>
<line x1="834.5" y1="275.0" x2="834.5" y2="306.0" stroke="#000" stroke-width="1"/>
<rect x="833.0" y="275.0" width="3" height="19.5" fill="#000"/>
<line x1="838.5" y1="272.0" x2="838.5" y2="294.5" stroke="#000" stroke-width="1"/>
<rect x="837.5" y="273.5" width="2" height="20.0" fill="#fff" stroke="#000" stroke-width="1"/>
<line x1="842.5" y1="267.0" x2="842.5" y2="275.0" stroke="#000" stroke-width="1"/>
<rect x="841.5" y="268.5" width="2" height="4.0" fill="#fff" stroke="#000" stroke-width="1"/>
<line x1="846.5" y1="264.5" x2="846.5" y2="272.5" stroke="#000" stroke-width="1"/>
<rect x="845.0" y="268.0" width="3" height="4.0" fill="#000"/>
<line x1="849.5" y1="265.0" x2="849.5" y2="274.5" stroke="#000" stroke-width="1"/>
<rect x="848.5" y="267.0" width="2" height="4.5" fill="#fff" stroke="#000" stroke-width="1"/>
<line x1="853.5" y1="263.0" x2="853.5" y2="267.5" stroke="#000" stroke-width="1"/>
<rect x="852.5" y="266.0" width="2" height="0.6" fill="#fff" stroke="#000" stroke-width="1"/>
<line x1="857.5" y1="264.5" x2="857.5" y2="269.5" stroke="#000" stroke-width="1"/>
<rect x="856.0" y="265.5" width="3" height="1.0" fill="#000"/>
<line x1="861.5" y1="264.5" x2="861.5" y2="266.5" stroke="#000" stroke-width="1"/>
<rect x="860.5" y="265.0" width="2" height="1.0" fill="#fff" stroke="#000" stroke-width="1"/>
<line x1="865.5" y1="262.0" x2="865.5" y2="265.0" stroke="#000" stroke-width="1"/>
<rect x="864.5" y="262.5" width="2" height="2.0" fill="#fff" stroke="#000" stroke-width="1"/>
<line x1="869.5" y1="261.0" x2="869.5" y2="262.0" stroke="#000" stroke-width="1"/>
<rect x="868.5" y="261.5" width="2" height="0.6" fill="#fff" stroke="#000" stroke-width="1"/>
<line x1="873.5" y1="262.0" x2="873.5" y2="263.0" stroke="#000" stroke-width="1"/>
<rect x="872.0" y="262.0" width="3" height="1.0" fill="#000"/>
<line x1="877.5" y1="262.0" x2="877.5" y2="264.0" stroke="#000" stroke-width="1"/>
<rect x="876.0" y="262.0" width="3" height="2.0" fill="#000"/>
<line x1="881.5" y1="255.0" x2="881.5" y2="263.5" stroke="#000" stroke-width="1"/>
<rect x="880.5" y="255.5" width="2" height="7.5" fill="#fff" stroke="#000" stroke-width="1"/>
<line x1="885.5" y1="254.5" x2="885.5" y2="259.5" stroke="#000" stroke-width="1"/>
<rect x="884.5" y="255.0" width="2" height="0.6" fill="#fff" stroke="#000" stroke-width="1"/>
<line x1="889.5" y1="253.5" x2="889.5" y2="256.0" stroke="#000" stroke-width="1"/>
<rect x="888.5" y="254.0" width="2" height="1.5" fill="#fff" stroke="#000" stroke-width="1"/>
<line x1="892.5" y1="251.0" x2="892.5" y2="255.5" stroke="#000" stroke-width="1"/>
<rect x="891.0" y="252.5" width="3" height="3.0" fill="#000"/>
<line x1="896.5" y1="251.0" x2="896.5" y2="255.5" stroke="#000" stroke-width="1"/>
<rect x="895.5" y="252.5" width="2" height="2.5" fill="#fff" stroke="#000" stroke-width="1"/>
<line x1="900.5" y1="252.0" x2="900.5" y2="256.0" stroke="#000" stroke-width="1"/>
<rect x="899.0" y="252.0" width="3" height="4.0" fill="#000"/>
<line x1="904.5" y1="252.0" x2="904.5" y2="266.5" stroke="#000" stroke-width="1"/>
<rect x="903.0" y="256.0" width="3" height="2.5" fill="#000"/>
<line x1="908.5" y1="241.5" x2="908.5" y2="266.5" stroke="#000" stroke-width="1"/>
<rect x="907.5" y="248.5" width="2" height="9.5" fill="#fff" stroke="#000" stroke-width="1"/>
<line x1="912.5" y1="232.0" x2="912.5" y2="250.5" stroke="#000" stroke-width="1"/>
<rect x="911.5" y="237.5" width="2" height="10.5" fill="#fff" stroke="#000" stroke-width="1"/>
<line x1="916.5" y1="228.5" x2="916.5" y2="242.5" stroke="#000" stroke-width="1"/>
<rect x="915.5" y="235.5" width="2" height="2.0" fill="#fff" stroke="#000" stroke-width="1"/>
<line x1="920.5" y1="233.0" x2="920.5" y2="253.5" stroke="#000" stroke-width="1"/>
<rect x="919.0" y="234.5" width="3" height="19.0" fill="#000"/>
<line x1="924.5" y1="241.5" x2="924.5" y2="264.5" stroke="#000" stroke-width="1"/>
<rect x="923.0" y="253.5" width="3" height="7.0" fill="#000"/>
<line x1="928.5" y1="246.5" x2="928.5" y2="263.0" stroke="#000" stroke-width="1"/>
<rect x="927.5" y="250.0" width="2" height="9.5" fill="#fff" stroke="#000" stroke-width="1"/>
<line x1="931.5" y1="234.0" x2="931.5" y2="252.0" stroke="#000" stroke-width="1"/>
<rect x="930.5" y="249.0" width="2" height="0.6" fill="#fff" stroke="#000" stroke-width="1"/>
<line x1="935.5" y1="245.5" x2="935.5" y2="250.0" stroke="#000" stroke-width="1"/>
<rect x="934.0" y="249.0" width="3" height="1.0" fill="#000"/>
<line x1="939.5" y1="243.0" x2="939.5" y2="252.5" stroke="#000" stroke-width="1"/>
<rect x="938.5" y="247.5" width="2" height="2.0" fill="#fff" stroke="#000" stroke-width="1"/>
<line x1="943.5" y1="242.5" x2="943.5" y2="247.5" stroke="#000" stroke-width="1"/>
<rect x="942.5" y="247.0" width="2" height="0.6" fill="#fff" stroke="#000" stroke-width="1"/>
<line x1="947.5" y1="245.5" x2="947.5" y2="247.0" stroke="#000" stroke-width="1"/>
<rect x="946.0" y="245.5" width="3" height="1.5" fill="#000"/>
<line x1="951.5" y1="242.5" x2="951.5" y2="246.5" stroke="#000" stroke-width="1"/>
<rect x="950.5" y="243.0" width="2" height="3.0" fill="#fff" stroke="#000" stroke-width="1"/>
<line x1="955.5" y1="240.5" x2="955.5" y2="242.5" stroke="#000" stroke-width="1"/>
<rect x="954.5" y="241.5" width="2" height="0.6" fill="#fff" stroke="#000" stroke-width="1"/>
<line x1="959.5" y1="238.5" x2="959.5" y2="241.5" stroke="#000" stroke-width="1"/>
<rect x="958.5" y="239.0" width="2" height="2.0" fill="#fff" stroke="#000" stroke-width="1"/>
<line x1="963.5" y1="237.5" x2="963.5" y2="238.5" stroke="#000" stroke-width="1"/>
<rect x="962.5" y="238.0" width="2" height="0.6" fill="#fff" stroke="#000" stroke-width="1"/>
<line x1="967.5" y1="237.5" x2="967.5" y2="240.5" stroke="#000" stroke-width="1"/>
<rect x="966.0" y="237.5" width="3" height="3.0" fill="#000"/>
<line x1="971.5" y1="238.0" x2="971.5" y2="242.5" stroke="#000" stroke-width="1"/>
<rect x="970.0" y="240.0" width="3" height="2.5" fill="#000"/>
<line x1="974.5" y1="240.5" x2="974.5" y2="251.0" stroke="#000" stroke-width="1"/>
<rect x="973.0" y="240.5" width="3" height="1.0" fill="#000"/>
<line x1="978.5" y1="237.5" x2="978.5" y2="243.5" stroke="#000" stroke-width="1"/>
<rect x="977.0" y="238.5" width="3" height="4.5" fill="#000"/>
<line x1="982.5" y1="238.0" x2="982.5" y2="243.5" stroke="#000" stroke-width="1"/>
<rect x="981.0" y="242.0" width="3" height="1.5" fill="#000"/>
<line x1="986.5" y1="242.0" x2="986.5" y2="248.5" stroke="#000" stroke-width="1"/>
<rect x="985.0" y="243.0" width="3" height="5.5" fill="#000"/>
<line x1="990.5" y1="242.0" x2="990.5" y2="248.5" stroke="#000" stroke-width="1"/>
<rect x="989.5" y="242.5" width="2" height="5.5" fill="#fff" stroke="#000" stroke-width="1"/>
<line x1="994.5" y1="237.5" x2="994.5" y2="244.5" stroke="#000" stroke-width="1"/>
<rect x="993.5" y="238.5" width="2" height="3.0" fill="#fff" stroke="#000" stroke-width="1"/>
<line x1="998.5" y1="229.0" x2="998.5" y2="243.5" stroke="#000" stroke-width="1"/>
<rect x="997.5" y="230.5" width="2" height="7.0" fill="#fff" stroke="#000" stroke-width="1"/>
<line x1="1002.5" y1="223.0" x2="1002.5" y2="233.5" stroke="#000" stroke-width="1"/>
<rect x="1001.0" y="229.5" width="3" height="4.0" fill="#000"/>
<line x1="1006.5" y1="220.0" x2="1006.5" y2="237.5" stroke="#000" stroke-width="1"/>
<rect x="1005.5" y="223.5" width="2" height="9.0" fill="#fff" stroke="#000" stroke-width="1"/>
<line x1="1010.5" y1="211.5" x2="1010.5" y2="224.0" stroke="#000" stroke-width="1"/>
<rect x="1009.5" y="213.0" width="2" height="10.0" fill="#fff" stroke="#000" stroke-width="1"/>
<line x1="1013.5" y1="204.0" x2="1013.5" y2="215.5" stroke="#000" stroke-width="1"/>
<rect x="1012.5" y="205.5" width="2" height="7.0" fill="#fff" stroke="#000" stroke-width="1"/>
<line x1="1017.5" y1="198.5" x2="1017.5" y2="206.0" stroke="#000" stroke-width="1"/>
<rect x="1016.5" y="201.0" width="2" height="4.0" fill="#fff" stroke="#000" stroke-width="1"/>
<line x1="1021.5" y1="198.5" x2="1021.5" y2="208.5" stroke="#000" stroke-width="1"/>
<rect x="1020.0" y="200.5" width="3" height="8.0" fill="#000"/>
<line x1="1025.5" y1="208.0" x2="1025.5" y2="214.5" stroke="#000" stroke-width="1"/>
<rect x="1024.0" y="208.0" width="3" height="5.0" fill="#000"/>
<line x1="1029.5" y1="212.0" x2="1029.5" y2="213.0" stroke="#000" stroke-width="1"/>
<rect x="1028.0" y="212.0" width="3" height="1.0" fill="#000"/>
<line x1="1033.5" y1="212.5" x2="1033.5" y2="213.5" stroke="#000" stroke-width="1"/>
<rect x="1032.0" y="212.5" width="3" height="1.0" fill="#000"/>
<line x1="1037.5" y1="212.5" x2="1037.5" y2="215.5" stroke="#000" stroke-width="1"/>
<rect x="1036.0" y="213.0" width="3" height="1.0" fill="#000"/>
<line x1="1041.5" y1="210.0" x2="1041.5" y2="212.5" stroke="#000" stroke-width="1"/>
<rect x="1040.5" y="212.0" width="2" height="0.6" fill="#fff" stroke="#000" stroke-width="1"/>
<line x1="1045.5" y1="209.0" x2="1045.5" y2="212.5" stroke="#000" stroke-width="1"/>
<rect x="1044.5" y="211.0" width="2" height="1.0" fill="#fff" stroke="#000" stroke-width="1"/>
<line x1="1049.5" y1="210.0" x2="1049.5" y2="212.0" stroke="#000" stroke-width="1"/>
<rect x="1048.5" y="211.0" width="2" height="0.6" fill="#fff" stroke="#000" stroke-width="1"/>
<line x1="1053.5" y1="210.0" x2="1053.5" y2="211.0" stroke="#000" stroke-width="1"/>
<rect x="1052.5" y="210.5" width="2" height="0.6" fill="#fff" stroke="#000" stroke-width="1"/>
<line x1="1056.5" y1="210.5" x2="1056.5" y2="213.0" stroke="#000" stroke-width="1"/>
<rect x="1055.0" y="210.5" width="3" height="2.5" fill="#000"/>
<line x1="1060.5" y1="210.5" x2="1060.5" y2="213.0" stroke="#000" stroke-width="1"/>
<rect x="1059.0" y="212.0" width="3" height="1.0" fill="#000"/>
<line x1="1064.5" y1="205.5" x2="1064.5" y2="213.5" stroke="#000" stroke-width="1"/>
<rect x="1063.5" y="208.5" width="2" height="4.0" fill="#fff" stroke="#000" stroke-width="1"/>
<line x1="1068.5" y1="206.5" x2="1068.5" y2="207.5" stroke="#000" stroke-width="1"/>
<rect x="1067.5" y="207.0" width="2" height="0.6" fill="#fff" stroke="#000" stroke-width="1"/>
<line x1="1072.5" y1="205.5" x2="1072.5" y2="207.5" stroke="#000" stroke-width="1"/>
<rect x="1071.5" y="206.5" width="2" height="0.6" fill="#fff" stroke="#000" stroke-width="1"/>
<line x1="1076.5" y1="201.5" x2="1076.5" y2="207.5" stroke="#000" stroke-width="1"/>
<rect x="1075.5" y="204.5" width="2" height="2.0" fill="#fff" stroke="#000" stroke-width="1"/>
<line x1="1080.5" y1="193.5" x2="1080.5" y2="204.5" stroke="#000" stroke-width="1"/>
<rect x="1079.5" y="199.5" width="2" height="4.0" fill="#fff" stroke="#000" stroke-width="1"/>
<line x1="1084.5" y1="198.5" x2="1084.5" y2="203.0" stroke="#000" stroke-width="1"/>
<rect x="1083.0" y="198.5" width="3" height="4.5" fill="#000"/>
<line x1="1088.5" y1="191.5" x2="1088.5" y2="206.5" stroke="#000" stroke-width="1"/>
<rect x="1087.5" y="197.0" width="2" height="5.5" fill="#fff" stroke="#000" stroke-width="1"/>
<line x1="1092.5" y1="188.5" x2="1092.5" y2="202.5" stroke="#000" stroke-width="1"/>
<rect x="1091.5" y="189.5" width="2" height="6.5" fill="#fff" stroke="#000" stroke-width="1"/>
<line x1="1095.5" y1="186.5" x2="1095.5" y2="195.5" stroke="#000" stroke-width="1"/>
<rect x="1094.0" y="188.5" width="3" height="7.0" fill="#000"/>
<line x1="1099.5" y1="189.5" x2="1099.5" y2="199.0" stroke="#000" stroke-width="1"/>
<rect x="1098.5" y="191.5" width="2" height="3.5" fill="#fff" stroke="#000" stroke-width="1"/>
<line x1="1103.5" y1="188.5" x2="1103.5" y2="200.0" stroke="#000" stroke-width="1"/>
<rect x="1102.5" y="191.0" width="2" height="0.6" fill="#fff" stroke="#000" stroke-width="1"/>
<line x1="1107.5" y1="186.5" x2="1107.5" y2="191.0" stroke="#000" stroke-width="1"/>
<rect x="1106.5" y="189.0" width="2" height="1.5" fill="#fff" stroke="#000" stroke-width="1"/>
<line x1="1111.5" y1="182.0" x2="1111.5" y2="193.5" stroke="#000" stroke-width="1"/>
<rect x="1110.5" y="183.5" width="2" height="5.5" fill="#fff" stroke="#000" stroke-width="1"/>
<line x1="1115.5" y1="181.5" x2="1115.5" y2="184.0" stroke="#000" stroke-width="1"/>
<rect x="1114.5" y="183.0" width="2" height="0.6" fill="#fff" stroke="#000" stroke-width="1"/>
<line x1="1119.5" y1="181.0" x2="1119.5" y2="183.5" stroke="#000" stroke-width="1"/>
<rect x="1118.5" y="181.5" width="2" height="1.5" fill="#fff" stroke="#000" stroke-width="1"/>
<line x1="1123.5" y1="179.0" x2="1123.5" y2="181.5" stroke="#000" stroke-width="1"/>
<rect x="1122.5" y="179.5" width="2" height="1.5" fill="#fff" stroke="#000" stroke-width="1"/>
<line x1="1127.5" y1="178.3" x2="1127.5" y2="179.5" stroke="#000" stroke-width="1"/>
<rect x="1126.0" y="178.3" width="3" height="1.2" fill="#000"/>
<line x1="1131.5" y1="177.5" x2="1131.5" y2="178.5" stroke="#000" stroke-width="1"/>
<rect x="1130.5" y="178.0" width="2" height="0.6" fill="#fff" stroke="#000" stroke-width="1"/>
<line x1="1135.5" y1="176.8" x2="1135.5" y2="177.6" stroke="#000" stroke-width="1"/>
<rect x="1134.5" y="177.3" width="2" height="0.6" fill="#fff" stroke="#000" stroke-width="1"/>
<line x1="1138.5" y1="177.5" x2="1138.5" y2="178.5" stroke="#000" stroke-width="1"/>
<rect x="1137.0" y="177.5" width="3" height="1.0" fill="#000"/>
<line x1="1142.5" y1="176.5" x2="1142.5" y2="180.0" stroke="#000" stroke-width="1"/>
<rect x="1141.0" y="177.5" width="3" height="1.0" fill="#000"/>
<line x1="1146.5" y1="178.0" x2="1146.5" y2="181.0" stroke="#000" stroke-width="1"/>
<rect x="1145.0" y="178.0" width="3" height="3.0" fill="#000"/>
<line x1="1150.5" y1="178.3" x2="1150.5" y2="180.5" stroke="#000" stroke-width="1"/>
<rect x="1149.5" y="178.8" width="2" height="1.2" fill="#fff" stroke="#000" stroke-width="1"/>
<line x1="1154.5" y1="178.0" x2="1154.5" y2="194.5" stroke="#000" stroke-width="1"/>
<rect x="1153.0" y="178.0" width="3" height="16.5" fill="#000"/>
<line x1="1158.5" y1="192.0" x2="1158.5" y2="200.5" stroke="#000" stroke-width="1"/>
<rect x="1157.0" y="194.5" width="3" height="3.5" fill="#000"/>
<line x1="1162.5" y1="195.5" x2="1162.5" y2="199.0" stroke="#000" stroke-width="1"/>
<rect x="1161.5" y="197.0" width="2" height="0.6" fill="#fff" stroke="#000" stroke-width="1"/>
<line x1="1166.5" y1="196.0" x2="1166.5" y2="200.0" stroke="#000" stroke-width="1"/>
<rect x="1165.0" y="197.0" width="3" height="1.0" fill="#000"/>
<line x1="1170.5" y1="194.0" x2="1170.5" y2="198.5" stroke="#000" stroke-width="1"/>
<rect x="1169.0" y="195.5" width="3" height="3.0" fill="#000"/>
<line x1="1174.5" y1="195.0" x2="1174.5" y2="198.5" stroke="#000" stroke-width="1"/>
<rect x="1173.5" y="195.5" width="2" height="2.5" fill="#fff" stroke="#000" stroke-width="1"/>
<line x1="1177.5" y1="183.0" x2="1177.5" y2="198.0" stroke="#000" stroke-width="1"/>
<rect x="1176.5" y="185.0" width="2" height="10.0" fill="#fff" stroke="#000" stroke-width="1"/>
<line x1="1181.5" y1="168.0" x2="1181.5" y2="185.5" stroke="#000" stroke-width="1"/>
<rect x="1180.5" y="175.0" width="2" height="9.5" fill="#fff" stroke="#000" stroke-width="1"/>
<line x1="1185.5" y1="173.0" x2="1185.5" y2="179.5" stroke="#000" stroke-width="1"/>
<rect x="1184.0" y="173.5" width="3" height="3.5" fill="#000"/>
<line x1="1189.5" y1="170.0" x2="1189.5" y2="181.5" stroke="#000" stroke-width="1"/>
<rect x="1188.5" y="171.5" width="2" height="5.0" fill="#fff" stroke="#000" stroke-width="1"/>
<line x1="1193.5" y1="170.0" x2="1193.5" y2="179.5" stroke="#000" stroke-width="1"/>
<rect x="1192.0" y="171.0" width="3" height="6.5" fill="#000"/>
<line x1="1197.5" y1="177.0" x2="1197.5" y2="237.0" stroke="#000" stroke-width="1"/>
<rect x="1196.0" y="177.0" width="3" height="60.0" fill="#000"/>
<line x1="1201.5" y1="228.0" x2="1201.5" y2="260.5" stroke="#000" stroke-width="1"/>
<rect x="1200.0" y="237.0" width="3" height="23.5" fill="#000"/>
<line x1="1205.5" y1="251.8" x2="1205.5" y2="261.6" stroke="#000" stroke-width="1"/>
<rect x="1204.5" y="252.3" width="2" height="7.7" fill="#fff" stroke="#000" stroke-width="1"/>
<line x1="1209.5" y1="245.0" x2="1209.5" y2="251.8" stroke="#000" stroke-width="1"/>
<rect x="1208.5" y="246.7" width="2" height="4.6" fill="#fff" stroke="#000" stroke-width="1"/>
<line x1="1213.5" y1="246.6" x2="1213.5" y2="248.5" stroke="#000" stroke-width="1"/>
<rect x="1212.0" y="246.6" width="3" height="1.9" fill="#000"/>
<line x1="1217.5" y1="245.8" x2="1217.5" y2="248.5" stroke="#000" stroke-width="1"/>
<rect x="1216.5" y="246.3" width="2" height="1.7" fill="#fff" stroke="#000" stroke-width="1"/>
<line x1="1220.5" y1="242.8" x2="1220.5" y2="246.6" stroke="#000" stroke-width="1"/>
<rect x="1219.5" y="243.3" width="2" height="2.8" fill="#fff" stroke="#000" stroke-width="1"/>
<line x1="1224.5" y1="241.3" x2="1224.5" y2="243.6" stroke="#000" stroke-width="1"/>
<rect x="1223.5" y="241.8" width="2" height="1.3" fill="#fff" stroke="#000" stroke-width="1"/>
<line x1="1228.5" y1="238.0" x2="1228.5" y2="242.4" stroke="#000" stroke-width="1"/>
<rect x="1227.5" y="238.5" width="2" height="3.4" fill="#fff" stroke="#000" stroke-width="1"/>
<line x1="1232.5" y1="236.0" x2="1232.5" y2="238.0" stroke="#000" stroke-width="1"/>
<rect x="1231.5" y="237.3" width="2" height="0.6" fill="#fff" stroke="#000" stroke-width="1"/>
<text x="155.5" y="113" class="ann" textLength="67.5" lengthAdjust="spacingAndGlyphs" font-size="21.5" style="fill:#111;stroke:#111">1-hour</text>
<text x="155.5" y="136" class="ann" textLength="114.5" lengthAdjust="spacingAndGlyphs" font-size="21.5" style="fill:#0b2f9a;stroke:#0b2f9a">US Nas 100</text>
<text x="542" y="88.8" class="ann" textLength="111" lengthAdjust="spacingAndGlyphs" font-size="21" style="fill:#ee3344;stroke:#ee3344">17150/200</text>
<text x="538" y="150.7" class="ann" textLength="112" lengthAdjust="spacingAndGlyphs" font-size="21" style="fill:#ee3344;stroke:#ee3344">16950/990</text>
<text x="890" y="191" class="ann" textLength="170" lengthAdjust="spacingAndGlyphs" font-size="21" style="fill:#ee3344;stroke:#ee3344">16800 (ST pivot)</text>
<text x="987" y="306" class="ann" textLength="64" lengthAdjust="spacingAndGlyphs" font-size="21" style="fill:#1b5e20;stroke:#1b5e20">16430</text>
<text x="975" y="389" class="ann" textLength="112" lengthAdjust="spacingAndGlyphs" font-size="21" style="fill:#1b5e20;stroke:#1b5e20">16160/125</text>
<text x="818" y="459" class="ann s17" textLength="99" lengthAdjust="spacingAndGlyphs" font-size="17" stroke-width="0.45" style="fill:#2626f2;stroke:#2626f2">*20-day MA</text>
<text x="44" y="558" class="ann s17" textLength="97" lengthAdjust="spacingAndGlyphs" font-size="17" stroke-width="0.45" style="fill:#111;stroke:#111">4 Dec 2023</text>
</g>
<text x="17" y="43" class="lg" textLength="115" lengthAdjust="spacingAndGlyphs">US Nas 100, 1h, OANDA</text>
<text x="139" y="43" class="lg" textLength="278" lengthAdjust="spacingAndGlyphs" xml:space="preserve" style="fill:#333">O16664.6  H16670.7  L16660.8  C16666.6  +2.0 (+0.01%)</text>
<text x="17" y="58" class="lg" textLength="147" lengthAdjust="spacingAndGlyphs">MA · 1D (50, close, 0, SMA, 5)</text>
<text x="172" y="58" class="lg" textLength="38" lengthAdjust="spacingAndGlyphs" style="fill:#2152c4">15581.3</text>
<text x="17" y="74" class="lg" textLength="147" lengthAdjust="spacingAndGlyphs">MA · 1D (20, close, 0, SMA, 5)</text>
<text x="172" y="74" class="lg" textLength="38" lengthAdjust="spacingAndGlyphs" style="fill:#4a4af0">16236.3</text>
<path d="M1241.51 562.13 A9.1 9.1 0 1 1 1235.01 554.65" fill="none" stroke="#8a1fa6" stroke-width="1.25" stroke-linecap="round"/>
<path d="M1234.85 558.75 L1228.63 563.56 L1232.64 563.72 L1229.23 568.65 L1236.17 563.16 L1232.24 563.04 Z" fill="#8a1fa6" stroke="#8a1fa6" stroke-width="0.2" stroke-linejoin="round"/>
<circle cx="1238.9" cy="557.2" r="2.45" fill="#f02d3c"/>
<g clip-path="url(#cr)">
<clipPath id="c70"><rect x="10" y="576" width="1329" height="59.6"/></clipPath>
<linearGradient id="g70" gradientUnits="userSpaceOnUse" x1="0" y1="582.9" x2="0" y2="635.6"><stop offset="0" stop-color="#f23645" stop-opacity="0.95"/><stop offset="1" stop-color="#f23645" stop-opacity="0"/></linearGradient>
<polygon clip-path="url(#c70)" fill="url(#g70)" points="9.8,635.6 9.8,690.7 14.0,688.7 17.3,660.2 21.2,648.6 25.1,662.1 28.9,654.2 33.1,655.7 37.2,654.5 40.9,666.2 44.4,671.0 48.1,668.4 52.2,670.7 56.4,673.0 60.5,669.2 64.2,675.2 68.4,673.7 72.5,679.4 76.1,666.5 80.2,672.2 83.9,673.7 88.1,679.4 92.1,673.7 95.5,688.7 99.3,703.8 103.0,716.6 107.1,691.8 111.3,682.3 115.1,688.0 119.1,686.8 122.9,676.7 127.1,679.0 131.2,680.9 134.9,682.0 138.8,682.7 142.6,684.2 146.4,683.2 150.4,685.3 154.2,685.7 157.9,692.5 162.5,698.2 165.9,686.8 170.0,686.8 173.7,692.8 177.5,694.8 181.6,689.2 185.8,682.3 189.2,666.2 193.0,644.1 196.8,664.7 200.8,663.9 205.3,663.6 209.8,657.2 212.5,655.4 216.2,658.7 220.3,652.6 224.5,645.6 227.8,643.9 231.6,645.1 235.6,644.1 239.9,643.5 243.6,644.7 247.7,647.4 251.6,646.8 255.7,652.2 259.7,654.5 263.5,649.3 267.4,661.7 271.0,663.3 275.7,642.6 279.4,665.0 283.5,669.2 286.8,673.7 290.6,685.6 294.8,680.8 298.8,684.7 302.6,695.4 306.8,695.2 310.3,694.8 314.3,695.2 318.1,697.8 322.1,694.8 326.1,693.4 329.7,693.4 333.9,697.0 337.8,699.0 341.7,688.0 345.2,685.3 348.9,674.0 353.4,672.7 357.2,670.7 361.0,667.2 364.7,648.1 369.2,649.3 372.7,628.6 376.7,624.1 380.5,622.9 384.3,622.6 388.8,627.8 392.5,625.9 396.3,635.6 400.1,634.9 403.4,634.4 408.0,640.3 410.0,640.3 412.0,639.1 415.8,636.6 419.3,636.9 423.3,642.6 427.8,646.3 431.6,655.4 435.0,650.4 438.8,643.9 442.9,642.6 447.1,661.7 451.4,667.7 454.9,676.7 458.7,662.4 462.4,635.6 466.9,660.9 470.4,652.9 474.2,648.9 477.9,644.2 482.3,648.4 486.2,650.5 490.0,648.4 493.7,657.2 497.8,660.2 502.3,664.7 506.0,663.6 509.5,665.1 513.6,661.7 517.3,662.6 521.1,661.8 525.3,661.5 529.1,659.1 532.8,663.5 536.9,659.9 541.1,656.6 544.9,655.2 548.6,631.6 552.2,628.6 556.1,636.1 560.2,628.3 564.3,621.5 568.2,627.1 572.2,624.8 576.3,623.5 580.2,625.3 583.8,622.6 588.0,626.8 591.8,625.7 595.5,625.7 600.1,625.6 603.5,623.6 607.6,624.4 610.0,624.4 615.0,628.1 619.1,625.1 622.6,635.6 626.8,637.3 630.4,628.3 634.9,655.2 638.8,648.4 642.4,639.6 646.2,645.9 650.1,642.1 654.2,633.8 658.2,627.1 662.0,620.3 665.7,617.3 669.2,615.8 673.4,618.1 677.5,619.4 681.5,620.8 685.4,620.6 689.8,620.0 693.6,621.4 697.3,627.1 701.2,624.1 704.5,623.6 709.4,630.8 713.1,632.2 716.6,627.5 720.3,632.0 724.1,624.8 728.6,638.8 732.4,632.3 736.1,651.1 739.9,652.9 743.7,653.7 748.2,614.7 751.9,613.8 755.7,621.5 759.4,615.8 763.5,611.6 767.7,610.2 771.5,614.3 775.2,618.1 779.0,616.2 783.1,618.1 787.0,617.4 790.7,630.1 794.8,631.6 798.3,640.2 802.6,637.2 806.8,644.1 810.0,642.1 814.3,638.4 818.1,640.9 821.8,655.7 825.9,669.2 829.8,683.5 833.5,697.5 837.3,676.4 841.8,671.9 845.9,674.8 849.3,670.2 853.4,670.2 857.2,669.6 860.9,668.0 865.1,664.7 868.9,664.7 872.7,665.4 876.4,667.4 880.5,657.6 884.5,658.4 888.4,654.5 892.2,659.7 896.3,656.4 900.0,660.9 904.1,665.4 908.0,651.9 911.8,641.4 916.1,639.9 919.9,665.7 923.6,673.3 927.6,662.9 931.2,661.2 935.4,663.3 939.1,660.5 942.9,659.7 946.7,658.4 950.4,654.5 954.9,653.4 958.7,649.6 962.5,649.3 966.5,654.5 970.0,657.5 974.5,656.3 978.2,656.4 982.0,660.9 986.1,669.2 989.8,660.6 994.0,652.9 998.1,642.9 1002.0,648.9 1005.8,635.8 1010.0,627.8 1013.8,622.6 1017.3,621.1 1021.1,631.6 1024.8,641.4 1028.6,642.1 1032.6,643.6 1036.9,644.1 1040.6,642.9 1044.4,640.6 1048.4,641.7 1052.6,640.9 1056.4,645.9 1060.2,647.4 1063.9,639.4 1068.4,637.9 1072.5,636.6 1075.7,633.8 1079.7,626.6 1083.5,638.4 1087.2,631.6 1091.5,624.4 1095.2,639.1 1098.5,635.6 1102.3,635.3 1106.0,634.9 1110.6,626.8 1114.3,625.6 1118.1,624.5 1121.8,623.0 1126.1,621.5 1129.7,620.3 1133.9,623.3 1137.6,622.6 1141.4,626.3 1146.2,632.3 1150.1,630.5 1153.7,673.7 1157.6,680.2 1161.7,680.8 1165.5,679.4 1169.7,682.0 1173.7,673.7 1177.5,651.1 1181.6,638.8 1185.5,644.7 1189.2,637.6 1193.0,651.1 1197.4,706.0 1201.3,716.1 1205.3,707.1 1209.1,701.5 1212.6,702.3 1216.8,700.3 1220.8,697.3 1224.6,696.0 1228.4,691.0 1231.8,690.0 1231.8,635.6"/>
<clipPath id="c30"><rect x="10" y="704.7" width="1329" height="35"/></clipPath>
<linearGradient id="g30" gradientUnits="userSpaceOnUse" x1="0" y1="704.7" x2="0" y2="756.9"><stop offset="0" stop-color="#4caf50" stop-opacity="0"/><stop offset="1" stop-color="#4caf50" stop-opacity="0.95"/></linearGradient>
<polygon clip-path="url(#c30)" fill="url(#g30)" points="9.8,704.7 9.8,690.7 14.0,688.7 17.3,660.2 21.2,648.6 25.1,662.1 28.9,654.2 33.1,655.7 37.2,654.5 40.9,666.2 44.4,671.0 48.1,668.4 52.2,670.7 56.4,673.0 60.5,669.2 64.2,675.2 68.4,673.7 72.5,679.4 76.1,666.5 80.2,672.2 83.9,673.7 88.1,679.4 92.1,673.7 95.5,688.7 99.3,703.8 103.0,716.6 107.1,691.8 111.3,682.3 115.1,688.0 119.1,686.8 122.9,676.7 127.1,679.0 131.2,680.9 134.9,682.0 138.8,682.7 142.6,684.2 146.4,683.2 150.4,685.3 154.2,685.7 157.9,692.5 162.5,698.2 165.9,686.8 170.0,686.8 173.7,692.8 177.5,694.8 181.6,689.2 185.8,682.3 189.2,666.2 193.0,644.1 196.8,664.7 200.8,663.9 205.3,663.6 209.8,657.2 212.5,655.4 216.2,658.7 220.3,652.6 224.5,645.6 227.8,643.9 231.6,645.1 235.6,644.1 239.9,643.5 243.6,644.7 247.7,647.4 251.6,646.8 255.7,652.2 259.7,654.5 263.5,649.3 267.4,661.7 271.0,663.3 275.7,642.6 279.4,665.0 283.5,669.2 286.8,673.7 290.6,685.6 294.8,680.8 298.8,684.7 302.6,695.4 306.8,695.2 310.3,694.8 314.3,695.2 318.1,697.8 322.1,694.8 326.1,693.4 329.7,693.4 333.9,697.0 337.8,699.0 341.7,688.0 345.2,685.3 348.9,674.0 353.4,672.7 357.2,670.7 361.0,667.2 364.7,648.1 369.2,649.3 372.7,628.6 376.7,624.1 380.5,622.9 384.3,622.6 388.8,627.8 392.5,625.9 396.3,635.6 400.1,634.9 403.4,634.4 408.0,640.3 410.0,640.3 412.0,639.1 415.8,636.6 419.3,636.9 423.3,642.6 427.8,646.3 431.6,655.4 435.0,650.4 438.8,643.9 442.9,642.6 447.1,661.7 451.4,667.7 454.9,676.7 458.7,662.4 462.4,635.6 466.9,660.9 470.4,652.9 474.2,648.9 477.9,644.2 482.3,648.4 486.2,650.5 490.0,648.4 493.7,657.2 497.8,660.2 502.3,664.7 506.0,663.6 509.5,665.1 513.6,661.7 517.3,662.6 521.1,661.8 525.3,661.5 529.1,659.1 532.8,663.5 536.9,659.9 541.1,656.6 544.9,655.2 548.6,631.6 552.2,628.6 556.1,636.1 560.2,628.3 564.3,621.5 568.2,627.1 572.2,624.8 576.3,623.5 580.2,625.3 583.8,622.6 588.0,626.8 591.8,625.7 595.5,625.7 600.1,625.6 603.5,623.6 607.6,624.4 610.0,624.4 615.0,628.1 619.1,625.1 622.6,635.6 626.8,637.3 630.4,628.3 634.9,655.2 638.8,648.4 642.4,639.6 646.2,645.9 650.1,642.1 654.2,633.8 658.2,627.1 662.0,620.3 665.7,617.3 669.2,615.8 673.4,618.1 677.5,619.4 681.5,620.8 685.4,620.6 689.8,620.0 693.6,621.4 697.3,627.1 701.2,624.1 704.5,623.6 709.4,630.8 713.1,632.2 716.6,627.5 720.3,632.0 724.1,624.8 728.6,638.8 732.4,632.3 736.1,651.1 739.9,652.9 743.7,653.7 748.2,614.7 751.9,613.8 755.7,621.5 759.4,615.8 763.5,611.6 767.7,610.2 771.5,614.3 775.2,618.1 779.0,616.2 783.1,618.1 787.0,617.4 790.7,630.1 794.8,631.6 798.3,640.2 802.6,637.2 806.8,644.1 810.0,642.1 814.3,638.4 818.1,640.9 821.8,655.7 825.9,669.2 829.8,683.5 833.5,697.5 837.3,676.4 841.8,671.9 845.9,674.8 849.3,670.2 853.4,670.2 857.2,669.6 860.9,668.0 865.1,664.7 868.9,664.7 872.7,665.4 876.4,667.4 880.5,657.6 884.5,658.4 888.4,654.5 892.2,659.7 896.3,656.4 900.0,660.9 904.1,665.4 908.0,651.9 911.8,641.4 916.1,639.9 919.9,665.7 923.6,673.3 927.6,662.9 931.2,661.2 935.4,663.3 939.1,660.5 942.9,659.7 946.7,658.4 950.4,654.5 954.9,653.4 958.7,649.6 962.5,649.3 966.5,654.5 970.0,657.5 974.5,656.3 978.2,656.4 982.0,660.9 986.1,669.2 989.8,660.6 994.0,652.9 998.1,642.9 1002.0,648.9 1005.8,635.8 1010.0,627.8 1013.8,622.6 1017.3,621.1 1021.1,631.6 1024.8,641.4 1028.6,642.1 1032.6,643.6 1036.9,644.1 1040.6,642.9 1044.4,640.6 1048.4,641.7 1052.6,640.9 1056.4,645.9 1060.2,647.4 1063.9,639.4 1068.4,637.9 1072.5,636.6 1075.7,633.8 1079.7,626.6 1083.5,638.4 1087.2,631.6 1091.5,624.4 1095.2,639.1 1098.5,635.6 1102.3,635.3 1106.0,634.9 1110.6,626.8 1114.3,625.6 1118.1,624.5 1121.8,623.0 1126.1,621.5 1129.7,620.3 1133.9,623.3 1137.6,622.6 1141.4,626.3 1146.2,632.3 1150.1,630.5 1153.7,673.7 1157.6,680.2 1161.7,680.8 1165.5,679.4 1169.7,682.0 1173.7,673.7 1177.5,651.1 1181.6,638.8 1185.5,644.7 1189.2,637.6 1193.0,651.1 1197.4,706.0 1201.3,716.1 1205.3,707.1 1209.1,701.5 1212.6,702.3 1216.8,700.3 1220.8,697.3 1224.6,696.0 1228.4,691.0 1231.8,690.0 1231.8,704.7"/>
<line x1="10" y1="635.6" x2="1339" y2="635.6" stroke="#3a3a3a" stroke-width="1.4"/>
<line x1="13" y1="670.5" x2="1339" y2="670.5" stroke="#666" stroke-width="1" stroke-dasharray="6 4.2"/>
<line x1="10" y1="704.7" x2="1339" y2="704.7" stroke="#667" stroke-width="1.1"/>
<polyline fill="none" stroke="#111" stroke-width="1.1" stroke-linejoin="round" points="9.8,690.7 14.0,688.7 17.3,660.2 21.2,648.6 25.1,662.1 28.9,654.2 33.1,655.7 37.2,654.5 40.9,666.2 44.4,671.0 48.1,668.4 52.2,670.7 56.4,673.0 60.5,669.2 64.2,675.2 68.4,673.7 72.5,679.4 76.1,666.5 80.2,672.2 83.9,673.7 88.1,679.4 92.1,673.7 95.5,688.7 99.3,703.8 103.0,716.6 107.1,691.8 111.3,682.3 115.1,688.0 119.1,686.8 122.9,676.7 127.1,679.0 131.2,680.9 134.9,682.0 138.8,682.7 142.6,684.2 146.4,683.2 150.4,685.3 154.2,685.7 157.9,692.5 162.5,698.2 165.9,686.8 170.0,686.8 173.7,692.8 177.5,694.8 181.6,689.2 185.8,682.3 189.2,666.2 193.0,644.1 196.8,664.7 200.8,663.9 205.3,663.6 209.8,657.2 212.5,655.4 216.2,658.7 220.3,652.6 224.5,645.6 227.8,643.9 231.6,645.1 235.6,644.1 239.9,643.5 243.6,644.7 247.7,647.4 251.6,646.8 255.7,652.2 259.7,654.5 263.5,649.3 267.4,661.7 271.0,663.3 275.7,642.6 279.4,665.0 283.5,669.2 286.8,673.7 290.6,685.6 294.8,680.8 298.8,684.7 302.6,695.4 306.8,695.2 310.3,694.8 314.3,695.2 318.1,697.8 322.1,694.8 326.1,693.4 329.7,693.4 333.9,697.0 337.8,699.0 341.7,688.0 345.2,685.3 348.9,674.0 353.4,672.7 357.2,670.7 361.0,667.2 364.7,648.1 369.2,649.3 372.7,628.6 376.7,624.1 380.5,622.9 384.3,622.6 388.8,627.8 392.5,625.9 396.3,635.6 400.1,634.9 403.4,634.4 408.0,640.3 410.0,640.3 412.0,639.1 415.8,636.6 419.3,636.9 423.3,642.6 427.8,646.3 431.6,655.4 435.0,650.4 438.8,643.9 442.9,642.6 447.1,661.7 451.4,667.7 454.9,676.7 458.7,662.4 462.4,635.6 466.9,660.9 470.4,652.9 474.2,648.9 477.9,644.2 482.3,648.4 486.2,650.5 490.0,648.4 493.7,657.2 497.8,660.2 502.3,664.7 506.0,663.6 509.5,665.1 513.6,661.7 517.3,662.6 521.1,661.8 525.3,661.5 529.1,659.1 532.8,663.5 536.9,659.9 541.1,656.6 544.9,655.2 548.6,631.6 552.2,628.6 556.1,636.1 560.2,628.3 564.3,621.5 568.2,627.1 572.2,624.8 576.3,623.5 580.2,625.3 583.8,622.6 588.0,626.8 591.8,625.7 595.5,625.7 600.1,625.6 603.5,623.6 607.6,624.4 610.0,624.4 615.0,628.1 619.1,625.1 622.6,635.6 626.8,637.3 630.4,628.3 634.9,655.2 638.8,648.4 642.4,639.6 646.2,645.9 650.1,642.1 654.2,633.8 658.2,627.1 662.0,620.3 665.7,617.3 669.2,615.8 673.4,618.1 677.5,619.4 681.5,620.8 685.4,620.6 689.8,620.0 693.6,621.4 697.3,627.1 701.2,624.1 704.5,623.6 709.4,630.8 713.1,632.2 716.6,627.5 720.3,632.0 724.1,624.8 728.6,638.8 732.4,632.3 736.1,651.1 739.9,652.9 743.7,653.7 748.2,614.7 751.9,613.8 755.7,621.5 759.4,615.8 763.5,611.6 767.7,610.2 771.5,614.3 775.2,618.1 779.0,616.2 783.1,618.1 787.0,617.4 790.7,630.1 794.8,631.6 798.3,640.2 802.6,637.2 806.8,644.1 810.0,642.1 814.3,638.4 818.1,640.9 821.8,655.7 825.9,669.2 829.8,683.5 833.5,697.5 837.3,676.4 841.8,671.9 845.9,674.8 849.3,670.2 853.4,670.2 857.2,669.6 860.9,668.0 865.1,664.7 868.9,664.7 872.7,665.4 876.4,667.4 880.5,657.6 884.5,658.4 888.4,654.5 892.2,659.7 896.3,656.4 900.0,660.9 904.1,665.4 908.0,651.9 911.8,641.4 916.1,639.9 919.9,665.7 923.6,673.3 927.6,662.9 931.2,661.2 935.4,663.3 939.1,660.5 942.9,659.7 946.7,658.4 950.4,654.5 954.9,653.4 958.7,649.6 962.5,649.3 966.5,654.5 970.0,657.5 974.5,656.3 978.2,656.4 982.0,660.9 986.1,669.2 989.8,660.6 994.0,652.9 998.1,642.9 1002.0,648.9 1005.8,635.8 1010.0,627.8 1013.8,622.6 1017.3,621.1 1021.1,631.6 1024.8,641.4 1028.6,642.1 1032.6,643.6 1036.9,644.1 1040.6,642.9 1044.4,640.6 1048.4,641.7 1052.6,640.9 1056.4,645.9 1060.2,647.4 1063.9,639.4 1068.4,637.9 1072.5,636.6 1075.7,633.8 1079.7,626.6 1083.5,638.4 1087.2,631.6 1091.5,624.4 1095.2,639.1 1098.5,635.6 1102.3,635.3 1106.0,634.9 1110.6,626.8 1114.3,625.6 1118.1,624.5 1121.8,623.0 1126.1,621.5 1129.7,620.3 1133.9,623.3 1137.6,622.6 1141.4,626.3 1146.2,632.3 1150.1,630.5 1153.7,673.7 1157.6,680.2 1161.7,680.8 1165.5,679.4 1169.7,682.0 1173.7,673.7 1177.5,651.1 1181.6,638.8 1185.5,644.7 1189.2,637.6 1193.0,651.1 1197.4,706.0 1201.3,716.1 1205.3,707.1 1209.1,701.5 1212.6,702.3 1216.8,700.3 1220.8,697.3 1224.6,696.0 1228.4,691.0 1231.8,690.0"/>
<line x1="1125.8" y1="617.6" x2="1201.8" y2="640.4" stroke="#ee3344" stroke-width="1.9"/>
<text x="962" y="615" class="ann s17" textLength="179" lengthAdjust="spacingAndGlyphs" font-size="17" stroke-width="0.45" style="fill:#ee3344;stroke:#ee3344">* bearish divergence</text>
</g>
<text x="17" y="594" class="lg" textLength="130" lengthAdjust="spacingAndGlyphs">RSI (14, close, SMA, 14, 2)</text>
<text x="155" y="594" class="lg" textLength="26" lengthAdjust="spacingAndGlyphs" style="fill:#333">38.13</text>
<line x1="1339.5" y1="26" x2="1339.5" y2="765" stroke="#555" stroke-width="1.2"/>
<text x="1345.3" y="80.8" class="ax" textLength="35.5" lengthAdjust="spacingAndGlyphs">17200.0</text>
<text x="1345.3" y="110.8" class="ax" textLength="35.5" lengthAdjust="spacingAndGlyphs">17100.0</text>
<text x="1345.3" y="140.8" class="ax" textLength="35.5" lengthAdjust="spacingAndGlyphs">17000.0</text>
<text x="1345.3" y="170.8" class="ax" textLength="35.5" lengthAdjust="spacingAndGlyphs">16900.0</text>
<text x="1345.3" y="260.8" class="ax" textLength="35.5" lengthAdjust="spacingAndGlyphs">16600.0</text>
<text x="1345.3" y="290.8" class="ax" textLength="35.5" lengthAdjust="spacingAndGlyphs">16500.0</text>
<text x="1345.3" y="320.8" class="ax" textLength="35.5" lengthAdjust="spacingAndGlyphs">16400.0</text>
<text x="1345.3" y="350.8" class="ax" textLength="35.5" lengthAdjust="spacingAndGlyphs">16300.0</text>
<text x="1345.3" y="380.8" class="ax" textLength="35.5" lengthAdjust="spacingAndGlyphs">16200.0</text>
<text x="1345.3" y="410.8" class="ax" textLength="35.5" lengthAdjust="spacingAndGlyphs">16100.0</text>
<text x="1345.3" y="440.8" class="ax" textLength="35.5" lengthAdjust="spacingAndGlyphs">16000.0</text>
<text x="1345.3" y="470.8" class="ax" textLength="35.5" lengthAdjust="spacingAndGlyphs">15900.0</text>
<text x="1345.3" y="500.8" class="ax" textLength="35.5" lengthAdjust="spacingAndGlyphs">15800.0</text>
<text x="1345.3" y="530.8" class="ax" textLength="35.5" lengthAdjust="spacingAndGlyphs">15700.0</text>
<text x="1345.3" y="560.8" class="ax" textLength="35.5" lengthAdjust="spacingAndGlyphs">15600.0</text>
<text x="1345.4" y="586.4" class="ax" textLength="30.5" lengthAdjust="spacingAndGlyphs">100.00</text>
<text x="1345.4" y="621.2" class="ax" textLength="24.6" lengthAdjust="spacingAndGlyphs">80.00</text>
<text x="1345.4" y="656.0" class="ax" textLength="24.6" lengthAdjust="spacingAndGlyphs">60.00</text>
<text x="1345.4" y="690.8000000000001" class="ax" textLength="24.6" lengthAdjust="spacingAndGlyphs">40.00</text>
<text x="1345.4" y="725.6" class="ax" textLength="24.6" lengthAdjust="spacingAndGlyphs">20.00</text>
<rect x="1339" y="84.3" width="47.5" height="16" rx="1.5" fill="#ee3344"/>
<text x="1346.3" y="96.2" textLength="35.2" lengthAdjust="spacingAndGlyphs" font-size="11" font-weight="bold" style="fill:#fff">17150.0</text>
<rect x="1339" y="144.3" width="47.5" height="16" rx="1.5" fill="#ee3344"/>
<text x="1346.3" y="156.20000000000002" textLength="35.2" lengthAdjust="spacingAndGlyphs" font-size="11" font-weight="bold" style="fill:#fff">16949.9</text>
<rect x="1339" y="189.3" width="47.5" height="16" rx="1.5" fill="#ee3344"/>
<text x="1346.3" y="201.20000000000002" textLength="35.2" lengthAdjust="spacingAndGlyphs" font-size="11" font-weight="bold" style="fill:#fff">16800.0</text>
<rect x="1339" y="215.6" width="47.5" height="16" rx="1.5" fill="#ee3344"/>
<text x="1346.3" y="227.5" textLength="35.2" lengthAdjust="spacingAndGlyphs" font-size="11" font-weight="bold" style="fill:#fff">16691.4</text>
<rect x="1339" y="230.0" width="47.5" height="28" rx="1.5" fill="#000"/>
<text x="1346.3" y="241.8" textLength="35.2" lengthAdjust="spacingAndGlyphs" font-size="11" font-weight="bold" style="fill:#fff">16666.6</text>
<text x="1346.3" y="253.6" textLength="25" lengthAdjust="spacingAndGlyphs" font-size="11" style="fill:#fff">20:01</text>
<rect x="1339" y="300.5" width="47.5" height="16" rx="1.5" fill="#1b5e20"/>
<text x="1346.3" y="312.4" textLength="35.2" lengthAdjust="spacingAndGlyphs" font-size="11" font-weight="bold" style="fill:#fff">16431.4</text>
<rect x="1339" y="382.3" width="47.5" height="16" rx="1.5" fill="#1b5e20"/>
<text x="1346.3" y="394.2" textLength="35.2" lengthAdjust="spacingAndGlyphs" font-size="11" font-weight="bold" style="fill:#fff">16160.0</text>
<rect x="1342.5" y="28.5" width="44" height="24" rx="3" fill="#fff" stroke="#e0e3eb"/>
<text x="1351.2" y="45" textLength="17.5" lengthAdjust="spacingAndGlyphs" font-size="10.5" style="fill:#333">USD</text>
<line x1="10" y1="740" x2="1390" y2="740" stroke="#8a8a8a" stroke-width="1.6"/>
<text x="40.5" y="755.4" class="ax" text-anchor="middle">4</text>
<text x="119" y="755.4" class="ax" text-anchor="middle" textLength="23.6" lengthAdjust="spacingAndGlyphs">03:00</text>
<text x="197" y="755.4" class="ax" text-anchor="middle">6</text>
<text x="287" y="755.4" class="ax" text-anchor="middle">7</text>
<text x="377" y="755.4" class="ax" text-anchor="middle">8</text>
<text x="490.5" y="755.4" class="ax" text-anchor="middle" font-weight="bold" textLength="11.2" lengthAdjust="spacingAndGlyphs">11</text>
<text x="568" y="755.4" class="ax" text-anchor="middle" textLength="23.6" lengthAdjust="spacingAndGlyphs">03:00</text>
<text x="647" y="755.4" class="ax" text-anchor="middle" textLength="10.6" lengthAdjust="spacingAndGlyphs">13</text>
<text x="736" y="755.4" class="ax" text-anchor="middle" textLength="10.6" lengthAdjust="spacingAndGlyphs">14</text>
<text x="826" y="755.4" class="ax" text-anchor="middle" textLength="10.6" lengthAdjust="spacingAndGlyphs">15</text>
<text x="940" y="755.4" class="ax" text-anchor="middle" font-weight="bold" textLength="11.2" lengthAdjust="spacingAndGlyphs">18</text>
<text x="1018" y="755.4" class="ax" text-anchor="middle" textLength="23.6" lengthAdjust="spacingAndGlyphs">03:00</text>
<text x="1096" y="755.4" class="ax" text-anchor="middle" textLength="10.6" lengthAdjust="spacingAndGlyphs">20</text>
<text x="1185.5" y="755.4" class="ax" text-anchor="middle" textLength="10.6" lengthAdjust="spacingAndGlyphs">21</text>
<text x="1275" y="755.4" class="ax" text-anchor="middle" textLength="10.6" lengthAdjust="spacingAndGlyphs">22</text>
<g fill="#1e222d"><path d="M9.5 777 H16.5 V786 H12.8 V780.6 H9.5 Z"/><circle cx="19.2" cy="778.9" r="1.9"/><path d="M22.6 777 H27.3 L23.4 786 H18.7 Z"/></g>
<text x="31.6" y="786" textLength="64.5" lengthAdjust="spacingAndGlyphs" font-size="13" style="fill:#3a3a3a">TradingView</text>
</svg></body></html>
